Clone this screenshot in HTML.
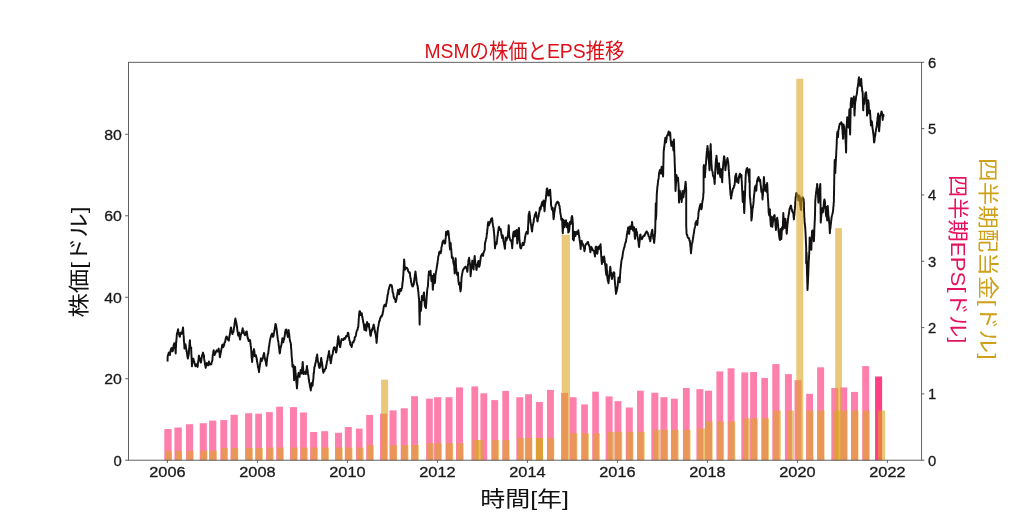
<!DOCTYPE html>
<html lang="ja"><head><meta charset="utf-8"><title>MSMの株価とEPS推移</title>
<style>html,body{margin:0;padding:0;background:#fff}body{width:1024px;height:517px;overflow:hidden;font-family:"Liberation Sans",sans-serif}svg{display:block;will-change:transform}text{font-family:"Liberation Sans",sans-serif;fill:#1a1a1a}</style></head><body>
<svg width="1024" height="517" viewBox="0 0 1024 517" role="img" aria-label="MSMの株価とEPS推移">
<rect width="1024" height="517" fill="#fff"/>
<polyline id="price" fill="none" stroke="#111" stroke-width="1.95" stroke-linejoin="round" points="167.5,361.5 167.6,360.1 167.6,358.6 167.6,358.6 167.7,356.3 167.7,356.1 168.0,355.5 168.3,354.3 168.6,353.0 168.8,353.1 169.1,352.4 169.4,352.3 169.6,354.0 169.9,355.1 170.1,353.2 170.2,352.3 170.4,352.0 170.6,351.9 170.7,350.2 171.1,348.7 171.5,348.2 171.8,348.1 172.1,349.4 172.4,351.2 172.7,351.3 172.9,350.4 173.1,348.9 173.2,349.1 173.4,347.0 173.6,345.1 173.9,345.9 174.1,343.7 174.3,343.2 174.5,343.4 174.8,344.2 175.0,345.9 175.1,346.8 175.3,349.1 175.4,349.0 175.5,351.1 175.6,352.5 175.7,353.4 175.7,352.0 175.8,351.1 175.8,348.9 175.9,347.7 175.9,346.8 176.0,346.6 176.1,344.8 176.1,343.8 176.2,342.2 176.3,341.5 176.4,340.1 176.5,338.5 176.6,338.4 176.7,336.9 176.8,334.8 176.9,334.1 177.1,333.3 177.3,332.2 177.6,332.0 177.8,330.7 178.1,329.3 178.2,330.0 178.4,332.7 178.6,332.1 178.8,334.1 179.2,334.8 179.5,336.4 179.9,336.8 180.1,335.0 180.4,334.6 180.7,332.6 180.9,332.5 181.3,333.2 181.7,333.8 182.0,333.6 182.2,332.7 182.3,332.3 182.5,330.1 182.7,329.9 182.8,328.7 183.0,327.4 183.1,328.7 183.2,329.6 183.3,331.5 183.4,332.8 183.4,332.9 183.5,334.4 183.6,335.2 183.7,335.5 183.8,338.1 183.9,339.2 183.9,341.1 184.0,342.0 184.1,342.1 184.2,343.5 184.3,345.3 184.3,345.2 184.4,347.3 184.5,348.6 184.7,346.8 185.0,345.7 185.2,344.5 185.5,344.3 185.6,346.0 185.8,345.7 185.9,347.0 186.1,348.6 186.3,349.3 186.5,351.3 186.7,350.6 186.9,352.4 187.0,353.3 187.2,354.6 187.4,356.3 187.6,357.2 187.8,358.3 187.9,358.6 188.1,357.1 188.3,356.4 188.4,355.2 188.6,355.3 188.8,353.4 188.9,353.2 189.0,350.3 189.1,349.2 189.2,348.1 189.3,346.9 189.4,346.2 189.5,345.2 189.6,343.3 189.7,341.6 189.8,341.3 189.9,340.2 190.0,341.1 190.0,342.6 190.1,344.6 190.2,345.1 190.3,345.9 190.4,347.2 190.5,348.1 190.8,348.2 191.2,347.5 191.2,347.8 191.2,350.7 191.3,351.7 191.3,353.0 191.4,354.0 191.4,354.4 191.5,355.6 191.5,356.1 191.6,358.4 191.6,358.4 191.7,359.6 191.7,361.0 191.8,362.1 191.8,363.7 191.9,364.2 191.9,366.3 192.1,364.1 192.2,363.2 192.4,362.0 192.6,361.3 192.8,360.4 193.1,358.6 193.5,358.8 193.7,360.7 193.9,361.2 194.2,361.3 194.4,363.1 194.6,363.4 194.9,364.4 195.2,365.2 195.4,366.3 195.8,364.8 196.2,365.6 196.5,364.2 196.9,366.1 197.2,365.9 197.6,366.9 197.8,365.7 197.9,363.6 198.0,362.5 198.2,361.8 198.3,361.0 198.5,359.4 198.6,359.5 198.7,357.0 198.9,355.7 199.0,355.6 199.2,357.5 199.4,357.6 199.6,357.8 199.8,359.6 200.0,360.4 200.2,360.2 200.5,361.9 200.8,362.6 201.0,362.6 201.2,361.4 201.3,360.1 201.5,358.2 201.7,357.8 201.9,356.4 202.2,355.0 202.5,355.2 202.7,353.7 203.0,352.6 203.3,354.2 203.5,354.2 203.8,355.6 204.0,356.1 204.1,358.4 204.3,359.8 204.4,360.6 204.6,361.0 204.8,362.8 204.9,364.0 205.1,365.0 205.3,365.0 205.5,366.8 205.7,367.9 205.9,366.7 206.1,365.0 206.3,364.1 206.5,363.6 206.7,363.1 207.1,363.3 207.4,365.0 207.8,365.3 208.1,365.3 208.3,363.3 208.6,363.4 208.9,361.5 209.1,363.3 209.4,364.1 209.7,363.6 209.9,364.7 210.4,364.0 210.9,363.8 211.3,364.2 211.6,362.6 211.8,361.7 212.1,361.6 212.3,360.4 212.4,360.1 212.5,358.8 212.6,356.8 212.7,356.0 212.8,354.5 213.1,354.1 213.3,351.5 213.5,351.6 213.7,350.2 213.9,352.1 214.1,352.8 214.2,353.7 214.4,354.0 214.6,355.1 214.9,353.5 215.3,353.9 215.6,352.4 216.0,351.3 216.4,351.6 216.7,350.2 217.1,351.6 217.4,350.7 217.8,351.3 218.1,350.2 218.4,350.5 218.7,348.6 218.9,350.3 219.1,350.4 219.3,352.4 219.5,352.8 219.6,354.1 219.8,356.9 219.9,357.2 220.1,356.6 220.3,354.1 220.5,354.3 220.7,352.4 220.9,352.3 221.2,350.6 221.4,349.1 221.7,347.8 221.9,347.1 222.1,345.2 222.3,344.9 222.7,344.6 223.0,347.3 223.4,347.0 223.6,346.4 223.9,345.2 224.2,345.1 224.4,343.2 224.7,342.2 225.0,342.1 225.3,341.1 225.5,339.5 225.8,338.1 226.1,337.5 226.3,336.8 226.6,336.5 226.9,336.7 227.1,338.2 227.4,338.2 227.7,339.5 228.0,339.7 228.4,339.4 228.8,340.6 228.9,340.3 229.1,338.1 229.3,337.3 229.4,336.4 229.6,335.2 229.8,334.9 230.0,332.8 230.2,332.8 230.3,330.8 230.5,329.7 230.7,328.6 230.9,327.4 231.1,327.6 231.3,329.6 231.5,330.2 231.8,332.0 232.0,331.6 232.3,334.0 232.5,334.1 232.8,332.6 233.0,332.4 233.3,332.2 233.6,330.9 233.7,329.9 233.9,328.4 234.0,327.7 234.2,326.7 234.4,326.1 234.5,323.6 234.7,323.4 234.8,322.3 235.0,320.4 235.2,319.3 235.4,318.5 235.6,320.1 235.8,320.5 236.1,321.6 236.3,322.9 236.5,323.4 236.6,325.3 236.8,325.4 236.9,326.8 237.1,327.7 237.2,328.8 237.3,329.8 237.5,331.4 237.7,332.1 237.9,333.4 238.0,334.5 238.2,335.7 238.5,335.6 238.7,334.0 239.0,332.5 239.1,334.5 239.3,335.8 239.5,335.5 239.7,337.3 239.9,339.2 240.0,339.5 240.2,339.1 240.5,336.6 240.7,335.5 240.9,335.1 241.1,334.1 241.5,332.7 242.0,333.0 242.1,331.3 242.3,329.7 242.5,329.8 242.7,328.2 242.9,329.7 243.1,330.9 243.4,330.3 243.6,332.0 243.9,333.2 244.2,333.9 244.5,333.6 244.9,335.2 245.2,335.1 245.6,334.4 245.9,332.5 246.4,331.4 246.8,331.4 247.0,333.5 247.1,333.4 247.2,334.6 247.4,336.8 247.6,336.8 247.8,338.6 248.1,338.2 248.4,339.9 248.6,341.1 249.1,340.8 249.6,340.0 250.0,340.0 250.2,340.5 250.3,341.9 250.4,343.9 250.6,343.6 250.7,345.8 250.8,346.7 251.0,347.0 251.1,349.1 251.2,350.0 251.3,351.8 251.4,352.7 251.4,352.9 251.5,356.0 251.6,356.8 251.7,358.3 251.8,357.7 251.9,359.2 252.0,359.9 252.1,362.0 252.2,361.5 252.3,359.3 252.4,357.8 252.6,357.3 252.7,357.2 252.8,355.8 252.9,354.0 253.1,352.5 253.3,351.3 253.6,352.0 253.8,350.3 254.0,349.1 254.1,350.7 254.3,350.6 254.4,351.7 254.6,354.2 254.7,354.8 254.8,356.1 255.2,354.9 255.6,356.3 255.9,355.1 256.1,356.3 256.3,357.7 256.5,357.2 256.7,359.8 256.9,359.1 257.0,361.8 257.2,362.0 257.4,363.0 257.6,363.9 257.8,365.4 257.9,367.2 258.1,366.9 258.3,368.5 258.5,368.7 258.7,370.4 258.9,370.8 259.0,372.2 259.2,370.3 259.3,369.2 259.5,367.8 259.6,367.0 259.8,366.0 259.9,365.3 260.1,363.7 260.3,363.5 260.4,361.3 260.6,360.6 260.8,358.8 261.0,358.3 261.3,358.9 261.6,359.1 261.8,361.0 262.1,359.6 262.4,358.3 262.6,359.0 262.9,357.8 263.1,356.9 263.3,355.2 263.6,354.8 263.8,354.8 264.0,352.9 264.2,353.3 264.4,356.0 264.6,356.4 264.7,357.8 265.0,358.8 265.3,360.6 265.5,360.7 265.8,362.0 266.0,363.3 266.2,364.9 266.4,365.8 266.5,365.7 266.6,363.2 266.7,363.0 266.8,361.6 267.0,360.3 267.1,358.7 267.2,357.8 267.5,356.4 267.7,354.7 268.0,353.7 268.3,353.4 268.4,351.3 268.5,351.5 268.7,349.3 268.8,347.9 269.0,346.5 269.1,346.9 269.2,345.8 269.4,343.8 269.6,343.1 269.8,341.2 270.0,340.1 270.2,339.6 270.4,338.2 270.7,337.5 271.0,335.8 271.2,335.5 271.6,334.7 271.9,333.7 272.2,333.5 272.4,335.3 272.7,336.2 272.9,336.2 273.1,336.9 273.4,335.4 273.6,336.0 273.8,333.7 274.0,332.8 274.2,332.2 274.4,330.1 274.6,329.9 274.7,329.1 274.9,328.1 275.1,326.5 275.2,326.1 275.4,324.0 275.6,324.0 275.8,324.5 276.0,325.1 276.1,326.7 276.3,326.9 276.5,328.8 276.7,329.0 276.8,330.8 277.0,331.9 277.2,333.8 277.3,334.9 277.5,336.0 277.6,337.6 277.8,338.5 277.9,339.7 278.1,341.2 278.3,341.2 278.4,342.2 278.6,343.7 278.7,345.8 278.8,345.1 279.0,347.4 279.1,348.3 279.2,348.1 279.4,350.9 279.5,352.1 279.6,352.6 279.8,353.4 279.9,352.8 280.1,351.8 280.3,349.2 280.4,348.9 280.6,347.7 280.8,346.8 281.0,346.5 281.2,345.5 281.5,344.6 281.7,343.0 281.8,342.0 282.0,341.4 282.2,339.8 282.4,338.2 282.6,339.7 282.8,339.7 283.1,340.3 283.3,342.3 283.5,340.6 283.7,340.1 283.9,338.6 284.2,339.2 284.4,337.6 284.5,336.7 284.7,335.8 284.9,334.8 285.0,333.9 285.2,332.5 285.3,331.5 285.7,329.8 286.1,330.8 286.4,329.4 286.6,331.0 286.8,331.6 287.0,332.7 287.2,334.0 287.4,333.9 287.6,336.3 287.8,336.9 287.9,335.3 288.1,333.7 288.2,333.0 288.4,332.9 288.6,330.6 288.7,330.1 288.8,331.8 289.0,333.5 289.1,333.7 289.3,334.6 289.4,336.0 289.5,337.6 289.7,339.0 289.8,339.6 290.0,340.9 290.2,342.1 290.4,342.0 290.7,343.2 290.9,345.0 291.0,345.7 291.1,348.0 291.2,348.3 291.3,350.0 291.4,350.1 291.4,351.4 291.5,353.1 291.6,355.1 291.7,356.4 291.8,357.2 291.9,358.8 292.0,359.1 292.1,360.8 292.2,361.9 292.3,363.1 292.3,363.5 292.4,366.3 292.5,366.7 292.8,365.6 293.1,366.8 293.4,365.3 293.5,367.4 293.6,366.6 293.6,368.7 293.7,370.6 293.7,372.1 293.8,372.1 293.8,372.9 293.9,373.9 293.9,376.6 294.0,376.2 294.0,378.1 294.1,378.3 294.1,380.2 294.2,379.1 294.3,378.7 294.4,375.8 294.4,376.0 294.5,374.1 294.6,373.7 294.6,372.1 294.7,369.8 294.8,370.0 294.9,367.9 294.9,366.7 295.1,366.9 295.2,368.0 295.3,370.2 295.4,371.3 295.5,372.2 295.7,373.1 295.8,374.7 295.9,376.2 296.0,377.0 296.1,379.3 296.2,378.8 296.3,381.6 296.4,383.0 296.5,382.7 296.7,385.6 296.8,386.4 296.9,388.0 297.0,388.4 297.1,386.7 297.1,385.7 297.2,384.6 297.3,384.7 297.4,382.6 297.5,381.0 297.6,379.9 297.6,378.9 297.8,377.4 298.0,375.9 298.1,375.0 298.3,375.5 298.4,373.4 298.6,372.8 298.8,374.7 299.1,374.3 299.3,375.3 299.6,376.9 299.7,375.7 299.9,373.9 300.1,373.2 300.3,373.3 300.4,372.0 300.6,370.1 300.9,371.6 301.2,372.0 301.4,373.5 301.7,373.5 301.8,373.2 301.9,371.3 302.0,370.5 302.1,367.9 302.2,368.2 302.3,366.5 302.4,365.9 302.5,364.6 302.6,362.7 302.7,361.9 302.8,362.2 302.9,365.3 302.9,364.8 303.0,366.8 303.1,367.7 303.2,368.8 303.3,371.0 303.4,372.7 303.5,372.4 303.6,374.1 304.0,373.8 304.3,372.4 304.7,372.1 305.1,372.9 305.4,373.2 305.8,374.1 306.0,372.3 306.1,371.1 306.3,370.0 306.5,370.4 306.7,368.3 306.8,366.6 307.0,366.0 307.1,368.0 307.3,369.3 307.4,369.2 307.5,369.7 307.7,370.9 307.8,371.8 307.9,373.4 308.1,374.8 308.3,375.0 308.5,376.4 308.6,377.6 308.8,379.3 309.0,380.2 309.2,382.2 309.4,383.0 309.6,383.4 309.8,384.6 309.9,385.9 310.1,387.0 310.3,387.9 310.6,388.9 310.8,390.4 310.9,388.4 311.1,387.8 311.2,388.2 311.3,385.4 311.5,385.1 311.6,384.3 311.7,382.9 312.0,384.6 312.3,384.2 312.6,385.7 312.7,384.0 312.8,382.8 312.9,381.9 313.0,380.8 313.1,380.7 313.3,379.3 313.4,378.1 313.5,376.2 313.6,374.1 313.7,373.0 313.9,373.3 314.0,372.6 314.1,370.6 314.2,369.8 314.3,367.4 314.4,367.4 314.7,366.2 314.9,366.4 315.1,365.2 315.3,364.3 315.5,362.6 315.8,362.5 316.1,359.8 316.3,359.2 316.5,357.2 316.8,356.2 317.0,355.7 317.2,354.5 317.3,356.0 317.4,357.7 317.6,358.4 317.7,359.3 317.8,360.7 318.0,361.3 318.2,362.2 318.4,363.4 318.6,363.4 318.8,365.9 319.0,365.8 319.2,367.4 319.6,368.0 319.9,367.2 320.3,366.7 320.4,365.2 320.5,363.7 320.6,362.9 320.7,362.6 320.9,361.6 321.0,359.3 321.1,358.1 321.2,357.9 321.4,359.0 321.5,360.2 321.7,360.8 321.8,361.6 322.0,363.4 322.1,363.2 322.3,365.3 322.5,366.0 322.6,367.4 322.8,369.5 322.9,369.9 323.1,371.5 323.2,371.7 323.4,372.8 323.7,371.4 324.1,370.6 324.4,371.2 324.7,369.4 325.1,369.4 325.6,368.1 326.0,368.1 326.1,365.9 326.3,365.8 326.5,365.0 326.7,363.4 326.9,361.9 327.0,361.3 327.3,360.7 327.5,360.3 327.7,357.9 327.9,356.5 328.1,356.5 328.3,355.1 328.5,354.2 328.7,353.7 328.9,351.6 329.1,351.1 329.2,352.9 329.4,353.9 329.5,354.5 329.7,355.0 329.9,357.7 330.0,357.9 330.2,358.6 330.3,360.7 330.4,360.6 330.6,361.6 330.7,363.3 330.9,362.8 331.1,360.8 331.2,361.2 331.4,359.2 331.6,357.6 331.8,357.2 332.0,355.7 332.2,355.1 332.4,354.7 332.7,354.4 332.9,352.5 333.1,350.8 333.3,350.4 333.5,349.0 333.7,349.7 333.9,347.7 334.4,347.2 334.8,347.2 335.2,348.4 335.4,348.5 335.6,350.2 335.9,352.3 336.1,352.5 336.3,352.1 336.5,350.7 336.7,350.1 336.8,348.9 337.0,346.5 337.2,345.7 337.3,343.9 337.5,344.2 337.6,342.7 337.7,340.0 337.9,340.1 338.0,338.3 338.1,337.1 338.3,336.2 338.4,337.0 338.6,337.8 338.8,338.6 338.9,340.3 339.1,341.5 339.2,343.0 339.5,345.0 339.7,344.2 339.9,347.0 340.2,347.1 340.4,345.3 340.5,344.5 340.7,344.3 340.9,343.2 341.1,341.3 341.3,340.3 341.7,339.1 342.2,339.8 342.6,339.6 343.1,339.1 343.5,340.0 344.0,338.9 344.4,337.9 344.8,338.0 345.2,338.8 345.6,337.6 346.1,336.1 346.5,336.5 346.9,336.2 347.2,336.0 347.5,335.1 347.8,332.7 348.0,332.8 348.3,332.9 348.5,334.1 348.7,337.0 348.9,336.7 349.1,338.2 349.3,339.8 349.6,341.1 349.8,341.0 350.0,341.8 350.2,344.3 350.5,344.4 350.8,345.5 351.2,345.7 351.6,347.1 351.8,346.6 352.0,344.8 352.3,343.7 352.5,342.2 352.8,342.3 353.1,342.3 353.5,342.2 353.8,341.1 354.1,340.3 354.4,340.4 354.7,337.7 354.9,337.3 355.2,337.0 355.5,336.2 355.7,336.3 355.9,335.4 356.2,333.3 356.4,332.1 356.6,331.6 356.8,330.8 357.2,329.9 357.5,330.0 357.9,327.6 358.2,327.4 358.3,326.9 358.3,325.7 358.4,324.7 358.5,323.5 358.6,322.0 358.7,320.3 358.7,319.2 358.8,318.1 358.9,317.9 359.0,315.3 359.1,315.1 359.2,313.4 359.3,313.6 359.4,311.5 359.6,311.1 359.9,311.1 360.2,312.1 360.5,314.2 360.8,315.1 361.1,314.1 361.5,314.9 361.8,313.3 362.0,315.3 362.2,316.8 362.4,316.5 362.5,317.3 362.7,319.4 362.9,319.6 363.1,321.6 363.4,323.1 363.6,323.8 363.8,324.9 363.9,325.6 364.1,327.2 364.3,328.9 364.4,329.9 364.6,329.2 364.8,328.3 365.0,327.4 365.1,326.0 365.3,324.6 365.5,325.1 365.7,327.8 365.8,327.9 366.0,329.7 366.2,330.7 366.3,329.4 366.4,329.1 366.5,326.8 366.6,325.8 366.7,324.8 366.8,323.5 367.0,323.9 367.1,322.0 367.3,323.3 367.5,323.8 367.7,325.1 367.9,326.4 368.2,326.5 368.5,324.6 368.8,323.8 369.0,324.4 369.1,326.8 369.3,327.7 369.5,329.7 369.7,329.9 369.8,330.2 370.0,332.2 370.2,334.2 370.4,335.4 370.5,335.9 370.8,335.7 371.1,332.8 371.3,332.3 371.6,331.6 371.8,329.9 372.1,329.2 372.4,330.0 372.6,328.1 372.9,327.4 373.2,327.3 373.4,325.2 373.7,324.6 373.9,326.4 374.1,326.6 374.3,327.3 374.5,329.4 374.7,329.9 374.9,331.8 375.1,331.1 375.3,333.2 375.6,334.3 375.8,335.1 375.9,335.6 376.0,337.0 376.1,337.7 376.3,338.9 376.4,340.2 376.5,342.0 376.6,342.9 376.7,342.1 376.8,340.0 376.9,338.5 377.0,338.0 377.1,337.6 377.2,335.5 377.2,334.6 377.3,333.2 377.4,333.4 377.5,331.6 377.7,330.5 377.9,328.4 378.0,327.3 378.2,326.7 378.4,325.9 378.6,324.6 378.8,323.9 379.1,321.7 379.4,320.8 379.7,320.9 379.9,319.4 380.3,318.4 380.6,317.2 381.0,316.4 381.3,315.9 381.7,316.6 382.0,315.0 382.4,315.1 382.6,314.2 382.7,312.7 382.9,311.8 383.1,311.8 383.2,311.0 383.4,309.0 383.7,307.6 383.9,306.2 384.2,306.2 384.5,304.6 384.9,304.6 385.3,304.7 385.7,306.4 385.9,306.1 386.1,304.0 386.3,303.8 386.6,302.0 386.7,300.8 386.9,300.7 387.1,298.8 387.3,297.1 387.4,296.8 387.6,294.7 387.8,294.8 388.0,293.9 388.1,293.5 388.3,291.6 388.6,289.6 388.8,289.6 389.1,288.0 389.3,287.2 389.7,286.5 390.0,285.0 390.4,284.9 390.9,284.7 391.3,285.3 391.8,285.5 392.0,287.5 392.1,287.0 392.3,288.9 392.5,290.7 392.6,292.2 392.8,292.4 393.1,292.9 393.3,293.8 393.6,296.6 393.9,296.8 394.2,298.6 394.6,298.5 394.9,299.4 395.2,299.3 395.5,302.0 395.8,302.0 396.0,300.7 396.2,300.8 396.4,299.2 396.6,298.6 396.8,296.2 397.0,295.9 397.2,295.5 397.4,293.3 397.5,292.7 397.7,292.6 397.9,291.5 398.1,289.8 398.3,290.2 398.6,291.4 398.8,292.9 399.1,294.2 399.3,293.2 399.5,291.8 399.7,290.2 399.9,289.5 400.1,288.9 400.5,290.0 400.8,290.9 401.2,290.7 401.4,288.6 401.7,288.6 402.0,288.0 402.2,286.3 402.3,284.3 402.4,284.9 402.5,282.3 402.7,282.2 402.8,281.0 402.9,280.1 403.0,278.3 403.1,277.6 403.2,276.3 403.3,275.5 403.4,274.0 403.4,273.3 403.5,271.7 403.6,270.7 403.7,269.4 403.7,267.4 403.8,267.5 403.8,266.1 403.9,264.5 403.9,264.4 404.0,263.3 404.0,261.5 404.1,259.8 404.1,259.4 404.2,260.5 404.3,260.8 404.4,262.1 404.5,263.8 404.5,264.3 404.6,266.2 404.7,267.5 404.8,267.7 404.8,269.8 405.1,269.2 405.4,267.2 405.7,267.2 406.2,268.0 406.6,268.4 407.1,268.1 407.4,269.0 407.7,268.9 408.0,270.7 408.3,271.5 408.8,271.6 409.2,273.1 409.7,272.4 409.9,272.8 410.1,275.4 410.2,276.8 410.4,277.4 410.6,278.7 410.8,278.5 410.9,280.2 411.2,282.3 411.4,282.3 411.6,284.2 411.9,285.2 412.1,284.6 412.3,286.3 412.7,286.5 413.0,286.4 413.4,284.1 413.7,284.6 413.9,283.1 414.0,282.8 414.1,280.4 414.3,280.8 414.4,278.3 414.6,277.6 414.8,277.1 414.9,274.4 415.1,274.0 415.3,273.6 415.4,271.5 415.6,272.1 415.7,273.4 415.8,275.1 416.0,275.9 416.1,276.5 416.2,278.0 416.4,279.2 416.5,281.1 416.8,283.1 417.0,283.7 417.3,285.2 417.5,285.5 417.7,285.9 417.8,288.4 418.0,288.1 418.1,290.2 418.3,291.6 418.4,292.4 418.5,293.3 418.6,295.5 418.7,295.9 418.8,297.1 418.9,298.8 419.0,298.3 419.1,300.3 419.1,302.5 419.2,303.0 419.2,303.7 419.2,305.8 419.2,305.9 419.3,308.6 419.3,309.0 419.3,309.7 419.3,311.8 419.4,312.3 419.4,313.0 419.4,315.4 419.4,315.2 419.5,318.0 419.5,318.0 419.5,320.0 419.6,322.0 419.6,322.4 419.6,323.8 419.6,324.6 419.7,323.0 419.7,321.2 419.7,320.1 419.7,319.1 419.8,318.9 419.8,317.3 419.8,316.3 419.8,315.9 419.9,313.1 419.9,312.1 419.9,311.8 420.0,309.3 420.0,308.1 420.0,307.7 420.0,305.9 420.1,305.3 420.1,303.8 420.1,303.4 420.1,302.0 420.3,303.3 420.4,303.6 420.5,305.5 420.6,306.3 420.7,306.7 420.8,309.4 420.9,309.1 421.0,310.7 421.1,308.8 421.2,307.6 421.2,307.6 421.3,306.9 421.4,305.6 421.4,303.7 421.5,302.2 421.6,300.6 421.6,300.8 421.7,299.5 421.8,297.9 421.8,297.4 421.9,295.9 422.1,296.9 422.3,299.0 422.6,299.7 422.8,300.3 422.9,298.6 423.1,298.9 423.3,295.9 423.5,295.9 423.6,294.5 423.8,293.0 424.0,292.4 424.1,292.7 424.1,295.4 424.2,295.0 424.3,297.3 424.4,299.3 424.5,298.8 424.5,300.1 424.6,302.1 424.7,303.1 424.8,304.6 424.9,305.5 425.2,307.0 425.6,306.5 425.9,308.1 426.0,306.6 426.1,305.4 426.1,303.7 426.2,304.4 426.3,303.0 426.4,301.7 426.5,299.1 426.5,299.7 426.6,298.4 426.7,296.6 426.8,296.1 426.9,294.3 426.9,293.3 427.1,291.6 427.2,290.3 427.3,289.5 427.5,288.0 427.6,287.5 427.7,287.3 427.9,286.1 428.0,284.6 428.1,284.1 428.1,282.7 428.2,280.5 428.3,280.0 428.4,278.5 428.5,278.1 428.5,276.3 428.6,274.6 428.7,274.2 428.8,273.7 428.9,271.5 429.1,271.8 429.3,274.1 429.5,273.1 429.7,275.0 429.9,273.4 430.2,272.3 430.4,272.3 430.6,270.7 430.7,272.8 430.8,273.5 430.9,273.8 431.0,276.1 431.1,276.1 431.2,277.1 431.3,279.6 431.4,280.2 431.5,281.1 431.6,280.5 431.8,279.4 431.9,279.0 432.0,276.9 432.2,275.9 432.2,277.8 432.3,278.6 432.3,280.1 432.4,280.4 432.5,282.2 432.5,283.0 432.6,283.6 432.6,284.6 432.7,286.6 432.7,286.6 432.8,289.5 432.9,289.8 432.9,287.9 433.0,286.4 433.1,285.4 433.2,285.9 433.3,283.5 433.3,281.8 433.4,280.4 433.5,279.2 433.6,279.4 433.7,278.0 433.7,277.0 433.8,275.9 433.9,274.1 434.0,274.3 434.2,276.5 434.3,277.1 434.4,279.2 434.6,280.3 434.7,281.5 434.8,280.9 434.9,282.9 435.0,282.5 435.1,281.4 435.2,280.3 435.3,277.4 435.4,276.4 435.5,275.1 435.6,273.8 435.7,274.3 435.8,272.4 436.0,272.1 436.2,270.7 436.4,270.0 436.6,268.6 436.8,266.9 437.0,266.3 437.2,264.4 437.3,263.4 437.5,263.7 437.6,261.5 437.8,260.7 437.9,259.9 438.1,259.0 438.2,257.0 438.4,256.4 438.6,255.4 438.8,255.2 439.0,253.4 439.1,252.6 439.5,251.7 439.9,251.5 440.3,253.3 440.7,253.1 440.9,252.0 441.1,251.5 441.3,249.8 441.4,247.4 441.6,247.2 441.8,246.1 442.0,245.1 442.1,244.8 442.3,243.0 442.5,242.7 442.7,241.3 443.0,241.2 443.4,240.4 443.8,240.8 444.0,242.4 444.2,241.7 444.5,243.5 444.9,243.6 445.4,242.4 445.4,240.5 445.5,239.0 445.6,238.2 445.7,238.2 445.8,237.4 445.9,234.2 445.9,234.0 446.0,232.8 446.1,231.7 446.4,233.3 446.7,233.1 447.0,234.9 447.2,233.9 447.3,232.7 447.5,232.7 447.7,231.1 448.1,230.9 448.5,231.7 448.6,233.7 448.7,233.3 448.8,234.3 448.9,236.4 449.0,237.0 449.1,238.1 449.2,238.4 449.3,240.6 449.4,240.6 449.5,243.2 449.6,244.2 449.6,245.5 449.7,246.3 449.8,246.8 449.9,248.0 450.0,249.4 450.1,248.1 450.2,248.0 450.3,245.3 450.4,245.9 450.5,243.0 450.6,242.9 450.7,243.6 450.8,244.9 450.9,247.5 451.1,247.9 451.2,248.9 451.3,250.4 451.4,252.3 451.5,252.0 451.6,253.6 451.7,254.8 451.8,256.4 451.9,257.4 452.0,258.0 452.4,258.0 452.8,257.4 452.9,258.1 453.0,259.1 453.2,259.7 453.3,262.2 453.4,262.5 453.7,263.9 454.0,265.1 454.2,265.6 454.3,266.0 454.3,267.7 454.4,269.5 454.4,270.3 454.5,270.4 454.6,272.2 454.6,273.4 454.7,273.1 454.7,270.5 454.8,269.3 454.9,268.3 455.0,268.0 455.0,267.1 455.1,264.5 455.2,264.1 455.3,262.2 455.3,261.2 455.4,260.2 455.5,259.4 455.6,258.2 455.7,258.7 455.8,260.3 455.8,261.2 455.9,264.1 456.0,264.8 456.0,264.7 456.1,267.7 456.2,268.0 456.3,268.3 456.4,270.1 456.6,272.5 456.7,272.7 457.0,274.4 457.3,275.0 457.7,274.3 458.0,272.7 458.0,273.8 458.1,274.5 458.1,276.6 458.2,276.7 458.2,278.2 458.3,279.8 458.4,281.2 458.5,281.3 458.7,283.1 458.9,284.4 459.2,284.2 459.5,282.8 459.6,284.5 459.8,285.3 459.9,286.8 460.0,287.7 460.1,289.1 460.3,289.5 460.5,291.4 460.7,290.5 460.9,289.1 461.0,287.8 461.1,287.4 461.1,286.6 461.2,284.5 461.2,283.6 461.3,282.6 461.4,281.8 461.4,279.9 461.5,278.3 461.6,278.2 461.6,276.6 461.8,276.3 462.0,275.1 462.2,273.4 462.4,272.8 462.6,272.1 462.8,270.3 463.2,269.9 463.6,268.8 464.0,268.7 464.4,268.0 464.8,267.3 465.2,266.8 465.6,266.6 465.9,267.2 466.3,268.2 466.7,268.8 466.9,268.9 467.1,270.7 467.3,271.9 467.4,271.2 467.6,269.8 467.7,268.4 467.8,266.3 467.9,265.6 468.0,264.3 468.2,263.2 468.3,262.4 468.4,260.9 468.6,259.7 468.9,259.2 469.1,257.8 469.2,259.9 469.4,259.5 469.5,261.7 469.7,262.5 469.9,264.1 470.1,264.3 470.2,265.6 470.3,266.8 470.3,269.0 470.4,268.2 470.4,270.4 470.4,270.8 470.5,273.2 470.5,274.8 470.6,275.0 470.6,276.2 470.7,274.2 470.8,274.1 470.9,272.9 471.0,272.2 471.1,270.7 471.2,269.5 471.3,268.6 471.5,267.9 471.6,266.1 471.8,264.8 471.9,263.6 472.1,263.6 472.2,261.0 472.3,260.6 472.6,262.1 472.8,262.7 473.0,264.1 473.1,265.7 473.2,265.5 473.3,268.4 473.5,268.1 473.6,269.5 473.7,267.4 473.7,266.6 473.8,265.6 473.9,263.6 474.0,263.2 474.1,262.0 474.1,260.9 474.3,260.1 474.4,258.1 474.6,256.6 474.7,255.9 474.8,256.4 474.9,258.6 475.0,260.1 475.1,260.3 475.2,260.8 475.3,262.5 475.5,264.2 475.7,264.4 475.9,265.6 476.1,266.1 476.2,267.0 476.3,269.4 476.5,269.9 476.6,269.5 476.8,268.1 477.0,266.6 477.1,265.6 477.4,265.0 477.7,264.1 477.9,262.4 478.2,263.0 478.4,260.9 478.6,261.8 478.7,263.6 478.8,265.1 478.9,266.3 479.1,266.8 479.4,266.1 479.7,265.6 479.8,264.1 480.0,263.5 480.1,261.6 480.2,262.0 480.4,260.2 480.5,258.9 480.7,258.9 480.8,256.7 480.9,256.2 481.3,255.4 481.7,255.1 482.1,254.0 482.5,253.9 482.8,254.7 483.1,255.9 483.3,254.0 483.5,252.5 483.8,252.3 484.0,252.0 484.3,250.8 484.7,250.0 484.8,248.2 484.8,246.9 484.9,245.7 484.9,244.7 485.0,243.5 485.2,242.4 485.4,241.9 485.6,241.0 485.9,239.7 486.1,238.3 486.3,238.5 486.5,237.2 486.7,235.4 486.8,233.4 487.0,233.9 487.1,233.0 487.2,231.7 487.3,229.3 487.5,229.0 487.6,228.5 487.7,226.9 487.8,224.5 488.0,223.3 488.1,224.1 488.2,222.0 488.5,223.4 488.8,223.6 489.1,225.2 489.4,223.7 489.7,223.0 489.9,223.1 490.2,221.6 490.4,221.8 490.7,220.4 491.0,219.5 491.4,218.6 491.7,219.6 492.1,218.2 492.2,220.0 492.4,219.9 492.5,222.6 492.7,223.2 492.8,224.1 493.0,225.7 493.2,226.4 493.4,227.8 493.6,227.9 493.7,229.6 493.8,230.8 493.9,230.5 494.0,232.6 494.1,233.3 494.2,234.3 494.3,236.0 494.4,236.5 494.4,238.6 494.5,239.1 494.6,239.7 494.6,240.8 494.7,241.7 494.7,243.6 494.8,243.9 494.9,245.9 494.9,246.4 495.0,248.3 495.1,247.2 495.3,246.1 495.4,245.2 495.6,244.8 495.7,242.9 496.2,242.4 496.6,244.0 496.7,243.6 496.8,241.8 497.0,240.9 497.1,240.0 497.2,239.3 497.3,237.3 497.5,236.5 497.6,235.2 497.8,235.3 497.9,232.4 498.1,232.5 498.2,231.1 498.4,230.3 498.6,228.0 498.9,228.1 499.1,226.8 499.3,228.3 499.6,229.9 499.8,230.0 500.2,229.1 500.7,229.0 500.9,231.2 501.1,231.4 501.2,232.6 501.4,233.8 501.6,235.7 501.8,235.0 502.0,237.5 502.2,238.1 502.4,237.5 502.6,236.0 502.8,235.4 503.0,237.2 503.1,237.3 503.2,238.6 503.3,239.8 503.5,241.4 503.6,241.9 503.9,242.3 504.1,244.0 504.3,245.1 504.5,246.3 504.7,247.7 504.9,248.8 505.0,248.4 505.0,246.1 505.1,246.1 505.2,244.1 505.3,243.2 505.4,241.6 505.5,241.0 505.6,240.8 505.6,239.0 505.7,237.6 506.0,239.1 506.2,239.0 506.5,240.2 506.8,239.1 507.1,238.4 507.3,238.1 507.5,237.1 507.7,236.0 507.9,235.1 508.1,233.3 508.2,231.1 508.3,231.4 508.4,230.6 508.5,228.8 508.6,226.6 508.6,225.9 508.7,225.2 508.8,225.4 508.9,227.1 508.9,229.9 509.0,230.4 509.0,231.8 509.1,233.3 509.2,234.8 509.2,235.5 509.3,236.5 509.5,237.6 509.8,238.5 510.0,239.2 510.4,240.4 510.8,240.8 511.1,240.7 511.4,240.2 511.5,241.8 511.6,241.9 511.8,244.0 511.9,244.8 512.0,246.5 512.1,246.3 512.2,248.3 512.3,246.4 512.3,245.0 512.4,245.3 512.5,244.4 512.6,242.7 512.6,240.9 512.7,240.7 512.8,239.4 512.9,237.8 512.9,236.5 513.1,234.8 513.2,233.6 513.4,232.7 513.6,231.7 513.8,232.5 514.0,233.9 514.1,235.6 514.3,236.5 514.5,236.3 514.6,233.4 514.8,233.4 514.9,231.2 515.1,231.1 515.3,231.3 515.4,233.7 515.6,234.2 515.8,235.9 515.9,235.9 516.1,234.7 516.2,232.6 516.3,232.2 516.5,231.4 516.6,230.0 516.6,232.2 516.7,233.5 516.8,233.7 516.8,234.7 516.9,235.3 516.9,237.7 517.0,238.0 517.1,239.1 517.1,240.0 517.2,241.2 517.2,243.5 517.3,242.7 517.4,240.4 517.5,241.0 517.6,238.1 517.7,238.6 517.8,235.9 517.9,234.5 518.0,234.9 518.1,233.3 518.3,231.6 518.4,231.6 518.6,229.4 518.8,228.0 519.0,227.9 519.0,229.6 519.1,230.7 519.1,232.2 519.2,233.1 519.2,232.9 519.3,235.3 519.3,236.6 519.4,237.3 519.4,239.4 519.5,239.7 519.6,240.3 519.7,242.8 519.8,243.4 519.9,243.0 520.0,244.1 520.1,246.5 520.2,247.2 520.7,248.4 521.1,248.3 521.4,246.5 521.7,246.1 522.0,245.6 522.2,245.2 522.5,243.1 522.8,242.9 523.1,244.4 523.4,244.3 523.7,245.1 524.0,243.3 524.2,243.0 524.5,242.4 524.6,241.5 524.7,240.1 524.9,239.5 525.0,237.3 525.1,237.0 525.3,236.7 525.5,234.9 525.7,234.5 525.9,233.3 526.3,232.7 526.7,231.7 527.0,232.2 527.4,232.8 527.8,233.8 527.8,233.2 527.9,232.3 527.9,230.7 528.0,229.0 528.0,227.2 528.1,225.5 528.1,226.2 528.2,224.4 528.3,223.5 528.3,221.2 528.4,220.6 528.4,220.1 528.5,218.6 528.5,216.9 528.6,215.4 528.8,214.1 529.0,213.4 529.2,213.4 529.4,211.7 529.5,212.6 529.7,214.5 529.8,215.5 530.0,216.5 530.1,218.5 530.2,219.5 530.3,219.6 530.4,220.2 530.5,222.4 530.7,222.9 530.9,224.1 531.1,225.4 531.3,226.2 531.4,227.9 531.6,229.2 531.7,228.5 531.9,231.2 532.0,231.6 532.1,231.1 532.2,230.2 532.4,228.5 532.5,226.8 532.6,226.9 532.7,225.1 532.9,224.9 533.2,223.7 533.4,222.4 533.6,222.3 533.8,220.2 533.9,218.7 534.1,218.7 534.3,217.6 534.5,217.2 534.8,214.8 535.0,214.4 535.3,214.2 535.6,213.9 535.9,212.2 536.1,212.7 536.3,214.6 536.5,215.8 536.6,216.5 536.8,217.4 537.0,217.8 537.2,218.9 537.3,220.9 537.5,221.4 537.7,220.9 537.9,219.1 538.1,217.3 538.3,217.1 538.5,216.8 538.7,215.8 538.9,213.7 539.1,213.3 539.3,212.3 539.4,211.8 539.6,210.6 539.7,208.6 539.9,207.4 540.1,208.1 540.4,209.0 540.6,209.5 540.8,207.9 541.0,207.0 541.1,206.0 541.3,206.1 541.5,204.7 541.7,203.5 542.0,203.1 542.2,202.0 542.5,203.1 542.7,204.6 542.9,205.8 543.0,204.0 543.2,202.7 543.3,203.6 543.5,201.2 543.6,200.4 543.7,200.8 543.8,203.1 543.9,204.6 544.0,204.5 544.1,206.6 544.2,207.2 544.3,208.8 544.4,208.9 544.5,211.2 544.6,208.9 544.7,209.7 544.8,208.2 544.9,206.2 545.0,205.2 545.1,203.3 545.2,202.6 545.4,202.1 545.5,200.3 545.7,200.3 545.8,198.8 546.0,197.2 546.1,196.6 546.2,195.7 546.4,193.0 546.5,191.3 546.6,190.4 546.7,189.1 546.9,188.6 547.1,188.4 547.4,189.1 547.6,190.7 547.8,191.8 548.0,193.5 548.1,193.6 548.3,195.6 548.5,195.6 548.7,195.2 548.8,192.2 549.0,192.2 549.2,190.7 549.7,190.0 550.1,189.7 550.2,189.9 550.3,192.8 550.4,192.4 550.4,194.1 550.5,195.3 550.6,196.1 550.7,198.3 550.8,198.9 550.8,199.5 550.9,200.8 551.0,201.4 551.0,204.3 551.1,205.6 551.1,205.8 551.3,206.1 551.5,206.7 551.7,208.1 551.9,209.5 552.3,208.4 552.8,207.9 552.8,209.9 552.9,211.0 553.0,212.0 553.1,211.5 553.2,214.2 553.3,215.1 553.4,216.1 553.4,218.0 553.5,217.1 553.6,219.2 553.7,217.3 553.9,217.4 554.0,216.6 554.1,214.9 554.3,213.0 554.4,212.2 554.6,211.3 554.8,210.6 555.0,208.2 555.2,207.9 555.4,206.6 555.6,205.5 555.8,204.3 556.0,204.2 556.3,203.6 556.7,202.4 557.1,202.6 557.4,201.9 557.8,201.7 558.1,202.3 558.4,203.4 558.7,202.8 558.9,205.0 559.2,205.2 559.4,205.5 559.6,206.1 559.8,209.0 560.0,209.0 560.1,209.5 560.2,212.1 560.4,213.0 560.5,214.1 560.6,214.4 560.8,214.7 560.9,216.4 561.1,216.8 561.2,219.6 561.4,219.8 561.7,219.9 562.1,218.7 562.2,220.1 562.2,221.0 562.3,222.0 562.3,224.2 562.4,224.7 562.4,226.2 562.5,226.4 562.5,227.8 562.6,228.6 562.6,231.2 562.7,232.1 562.8,233.2 562.8,231.2 562.9,231.5 563.0,229.0 563.0,228.1 563.1,226.3 563.2,225.4 563.2,225.3 563.3,223.1 563.4,221.5 563.4,221.0 563.5,219.8 563.6,220.4 563.7,222.7 563.8,222.2 563.9,225.1 564.0,224.2 564.2,227.0 564.3,227.3 564.4,226.7 564.6,224.7 564.8,224.3 564.9,222.9 565.1,222.4 565.4,221.2 565.7,220.4 566.0,220.3 566.1,221.2 566.2,223.6 566.4,224.8 566.5,225.8 566.6,225.3 566.7,227.3 566.9,225.8 567.2,226.0 567.4,223.1 567.6,223.0 567.7,224.7 567.8,225.0 567.9,227.6 568.0,226.8 568.1,229.7 568.2,229.9 568.2,230.7 568.3,232.6 568.6,230.9 568.9,231.9 569.2,230.5 569.3,229.3 569.4,227.4 569.5,226.7 569.6,226.4 569.7,223.8 569.8,223.3 570.0,221.9 570.2,221.8 570.5,222.7 570.8,224.0 570.9,223.5 571.1,222.3 571.2,220.2 571.4,219.8 571.5,217.9 571.7,217.0 571.9,217.2 572.1,216.0 572.2,217.1 572.4,217.8 572.5,218.9 572.6,220.9 572.7,222.2 572.9,223.0 572.9,224.8 572.9,225.5 572.9,225.9 572.9,226.7 572.9,229.3 572.9,229.8 572.9,231.6 572.9,231.4 572.9,234.1 572.9,234.3 572.9,236.6 572.9,237.8 572.9,238.2 572.9,239.3 573.3,238.9 573.7,240.4 573.8,240.0 574.0,237.9 574.1,237.5 574.2,235.0 574.3,233.6 574.4,233.7 574.6,231.8 574.8,232.6 574.9,233.3 575.1,234.8 575.3,236.1 575.6,235.2 575.9,232.9 576.1,232.9 576.4,231.8 576.8,232.4 577.1,233.3 577.5,234.0 577.7,232.2 577.9,232.5 578.1,231.8 578.3,230.2 578.5,232.2 578.6,232.2 578.8,234.2 578.9,234.7 579.1,236.1 579.3,237.7 579.4,237.3 579.6,240.1 579.8,241.4 579.9,241.5 580.0,242.5 580.2,243.7 580.3,244.8 580.4,245.9 580.5,245.8 580.6,248.9 580.7,249.0 580.8,247.3 580.9,246.0 581.0,244.7 581.1,243.9 581.2,243.9 581.3,241.1 581.5,240.9 581.7,240.8 582.0,242.8 582.3,243.1 582.6,243.4 582.9,243.9 583.2,245.8 583.5,246.5 583.9,246.9 584.1,248.1 584.2,249.1 584.3,250.5 584.5,251.2 584.6,249.2 584.8,249.8 585.0,248.4 585.1,245.9 585.3,245.8 585.7,244.2 586.1,244.2 586.4,243.9 586.8,243.6 587.2,243.1 587.5,242.1 587.9,242.0 588.2,242.3 588.5,244.0 588.8,245.2 589.2,245.3 589.6,246.9 589.8,248.1 589.9,249.8 590.1,249.3 590.2,251.3 590.4,252.2 590.5,251.7 590.7,249.4 590.9,249.7 591.0,248.9 591.2,246.9 591.6,247.4 592.0,248.5 592.3,248.8 592.7,250.3 593.0,250.1 593.4,250.5 593.8,250.6 594.1,251.2 594.3,253.2 594.5,253.9 594.6,254.0 594.8,254.9 595.0,256.5 595.1,255.0 595.2,254.0 595.3,253.9 595.4,252.3 595.4,251.3 595.5,249.9 595.6,248.8 595.7,246.9 596.2,246.5 596.6,247.9 596.7,249.1 596.9,251.3 597.0,252.4 597.2,252.1 597.3,253.8 597.5,252.5 597.6,251.8 597.8,250.1 597.9,249.3 598.1,247.1 598.2,246.9 598.5,247.4 598.7,248.3 599.0,249.0 599.2,246.9 599.5,246.1 599.7,245.8 600.1,246.0 600.6,244.2 600.6,245.9 600.7,247.3 600.8,247.8 600.8,249.3 600.9,250.6 601.0,251.7 601.0,251.1 601.1,253.5 601.1,253.8 601.2,255.4 601.3,257.1 601.4,257.4 601.5,259.2 601.6,261.2 601.7,261.8 601.8,262.3 601.9,264.0 602.0,262.9 602.1,261.6 602.2,261.5 602.3,258.9 602.4,257.8 602.5,257.1 602.7,258.6 602.9,258.7 603.1,260.9 603.2,261.9 603.4,261.8 603.6,259.8 603.8,258.2 603.9,257.5 604.1,256.5 604.2,257.7 604.4,257.9 604.5,259.0 604.6,260.0 604.7,261.5 604.9,263.0 605.0,263.8 605.2,264.7 605.3,265.7 605.5,266.4 605.6,268.3 605.7,269.5 605.8,271.3 605.9,271.9 606.0,272.9 606.2,274.2 606.3,275.0 606.3,273.2 606.3,273.1 606.3,271.4 606.4,270.4 606.4,269.3 606.4,267.8 606.5,266.3 606.5,265.0 606.5,264.3 606.6,264.9 606.7,266.7 606.7,267.7 606.8,269.3 606.9,269.3 607.0,271.2 607.0,273.5 607.1,273.3 607.2,275.2 607.3,276.3 607.3,277.5 607.5,278.0 607.7,280.4 607.9,279.9 608.1,281.9 608.3,281.6 608.5,283.2 608.6,281.2 608.7,281.7 608.9,279.7 609.0,277.8 609.1,277.3 609.2,276.3 609.3,275.8 609.5,274.2 609.6,272.1 609.7,271.1 609.9,271.5 610.0,269.8 610.2,267.3 610.3,266.8 610.4,267.5 610.6,268.7 610.7,270.4 610.8,271.4 611.0,273.0 611.1,273.4 611.3,275.2 611.4,275.7 611.6,277.3 611.8,278.5 611.9,279.1 612.1,278.7 612.3,277.2 612.5,276.8 612.7,275.7 612.9,275.2 613.1,273.4 613.5,272.3 613.9,273.6 614.2,272.5 614.3,272.7 614.4,275.4 614.5,276.2 614.6,277.1 614.6,279.3 614.7,279.6 614.8,280.4 614.9,282.3 615.0,283.7 615.1,284.1 615.2,285.4 615.3,286.0 615.4,287.2 615.5,288.3 615.6,290.0 615.7,290.2 615.8,291.5 615.9,292.9 616.0,293.9 616.2,292.6 616.5,291.5 616.7,291.4 616.9,289.8 617.1,289.5 617.3,287.8 617.5,286.6 617.7,285.7 617.8,283.9 617.9,282.9 618.0,281.4 618.2,281.2 618.3,280.0 618.4,277.8 618.5,277.5 618.7,279.3 619.0,279.1 619.2,281.2 619.4,282.1 619.7,282.4 619.7,282.2 619.8,279.4 619.9,278.7 620.0,278.5 620.0,275.4 620.1,274.3 620.2,274.2 620.3,272.8 620.3,272.5 620.4,271.0 620.5,269.3 620.6,268.1 620.8,267.8 620.9,265.6 621.0,264.4 621.2,263.5 621.3,261.9 621.5,260.7 621.7,259.6 621.9,259.2 622.1,257.7 622.3,258.0 622.5,256.1 622.6,255.4 622.8,254.0 623.0,252.1 623.2,251.6 623.4,250.6 623.6,249.9 623.8,248.7 624.0,247.9 624.3,247.5 624.6,246.7 624.8,244.7 625.1,243.8 625.4,242.6 625.7,242.0 626.0,241.7 626.2,239.7 626.4,238.2 626.6,237.4 626.7,236.8 626.9,234.3 627.1,233.4 627.2,233.6 627.4,231.4 627.6,231.1 627.9,229.4 628.1,227.5 628.4,227.3 628.5,229.3 628.7,229.9 628.8,231.3 628.9,232.7 629.1,233.6 629.2,233.9 629.3,232.5 629.5,230.7 629.6,229.8 629.7,229.0 629.9,227.8 630.0,226.5 630.4,226.7 630.8,227.5 631.2,229.0 631.3,228.1 631.4,226.8 631.6,225.1 631.7,225.3 631.9,223.4 632.0,221.9 632.1,222.0 632.3,223.9 632.4,225.8 632.6,225.9 632.7,227.8 632.9,227.4 633.0,229.1 633.1,230.6 633.4,230.2 633.7,228.6 634.0,227.3 634.1,228.8 634.2,229.0 634.3,230.8 634.4,232.0 634.5,232.6 634.6,234.5 634.7,235.5 634.8,237.6 634.9,237.8 635.0,238.8 635.1,237.6 635.2,235.9 635.3,234.8 635.5,235.0 635.6,232.5 635.7,231.4 635.8,230.5 636.0,230.1 636.1,229.0 636.3,230.6 636.5,231.1 636.7,232.5 636.9,231.9 637.1,232.7 637.2,234.7 637.4,236.4 637.6,236.7 637.8,238.6 638.0,239.0 638.2,240.5 638.4,240.9 638.5,242.2 638.6,242.9 638.8,245.7 638.9,246.1 639.1,247.1 639.2,245.6 639.3,244.7 639.4,243.5 639.5,241.6 639.6,242.3 639.7,240.5 639.8,240.2 639.9,238.0 640.0,237.2 640.1,235.3 640.2,234.7 640.5,234.6 640.7,237.3 641.0,237.9 641.3,237.6 641.5,238.8 641.9,239.1 642.3,238.4 642.7,237.2 643.1,236.2 643.6,236.3 644.0,235.6 644.4,235.9 644.8,234.3 645.2,234.6 645.6,233.1 646.0,232.0 646.4,231.8 646.8,231.4 647.2,232.7 647.6,232.5 647.9,233.9 648.3,234.3 648.6,236.3 648.9,236.3 649.3,237.2 649.5,238.8 649.8,238.7 650.0,239.6 650.2,241.3 650.4,239.9 650.6,238.5 650.7,239.0 650.9,236.5 651.1,236.0 651.2,234.7 651.4,232.9 651.6,232.8 651.8,231.5 652.0,230.6 652.2,229.8 652.4,230.1 652.5,231.4 652.6,234.0 652.8,234.2 652.9,235.1 653.1,236.2 653.2,238.0 653.4,238.6 653.6,239.4 653.8,240.0 654.0,242.3 654.2,242.9 654.3,241.5 654.4,239.9 654.5,239.9 654.6,237.5 654.7,236.7 654.8,236.7 654.9,234.1 655.0,233.6 655.1,233.3 655.2,231.4 655.2,230.9 655.2,228.4 655.2,227.6 655.3,227.2 655.3,225.3 655.3,225.3 655.4,222.6 655.4,223.0 655.4,220.9 655.4,219.1 655.5,218.4 655.5,216.5 655.5,216.6 655.5,214.5 655.6,214.6 655.6,212.8 655.6,211.2 655.6,209.7 655.7,209.3 655.7,207.3 655.7,207.5 655.7,204.8 655.8,204.4 655.8,203.2 655.8,204.5 655.8,205.1 655.8,207.4 655.8,207.7 655.8,209.5 655.8,210.5 655.8,211.2 655.8,212.5 655.8,213.1 655.8,214.5 655.8,217.1 655.8,217.2 655.8,219.1 655.8,219.9 656.0,217.9 656.1,217.6 656.2,215.9 656.3,215.0 656.3,213.8 656.4,212.2 656.4,210.6 656.4,209.9 656.4,208.6 656.5,207.2 656.5,207.3 656.5,205.2 656.5,204.3 656.6,204.1 656.6,202.7 656.6,201.7 656.6,200.5 656.7,197.8 656.7,197.0 656.7,195.3 656.7,195.1 656.8,194.3 656.9,193.1 657.0,191.3 657.1,190.3 657.2,189.6 657.3,188.5 657.4,186.4 657.5,185.8 657.7,185.5 657.8,183.4 657.9,182.9 658.1,180.9 658.2,179.8 658.4,179.5 658.5,179.2 658.7,177.7 658.8,176.5 659.0,173.9 659.1,172.8 659.3,172.6 659.6,170.9 659.9,170.0 660.2,169.7 660.4,170.3 660.6,171.4 660.8,171.7 661.0,173.7 661.1,172.2 661.2,171.7 661.3,169.6 661.4,169.8 661.5,168.1 661.6,166.8 661.8,168.2 662.1,168.3 662.3,169.7 662.5,170.8 662.6,172.4 662.8,172.8 662.9,173.3 663.0,176.2 663.1,176.6 663.1,176.0 663.2,173.8 663.2,172.1 663.2,172.6 663.2,170.9 663.3,168.6 663.3,167.8 663.3,166.3 663.3,166.6 663.4,164.1 663.4,164.4 663.4,162.9 663.5,160.3 663.5,160.4 663.5,158.6 663.5,158.2 663.6,157.1 663.6,154.8 663.6,153.2 663.6,153.8 663.7,151.5 663.7,150.5 663.9,150.3 664.0,148.6 664.2,147.5 664.3,146.6 664.5,144.7 664.6,143.8 664.8,142.3 664.9,140.3 665.0,140.5 665.2,138.8 665.3,137.8 665.5,138.9 665.7,141.0 665.8,140.5 666.0,142.4 666.2,141.8 666.3,139.1 666.5,139.3 666.7,138.4 666.8,136.6 667.2,135.2 667.6,134.9 667.9,134.1 668.1,134.1 668.3,132.5 668.6,131.4 668.8,132.5 669.0,132.9 669.2,133.5 669.4,135.4 669.6,134.2 669.8,133.3 670.1,132.5 670.2,133.2 670.3,134.7 670.4,135.5 670.5,138.0 670.6,139.2 670.6,140.1 670.8,140.7 670.9,141.9 671.1,143.6 671.2,144.6 671.4,145.9 671.5,145.8 671.7,143.5 671.9,142.4 672.0,141.8 672.4,143.5 672.7,143.6 672.9,144.0 673.0,146.0 673.1,146.7 673.2,148.9 673.3,149.5 673.4,150.5 673.5,149.8 673.5,147.4 673.6,147.2 673.6,145.8 673.7,144.3 673.7,143.7 673.8,142.6 673.8,139.9 673.9,139.5 673.9,140.3 674.0,141.6 674.0,142.5 674.1,143.4 674.1,145.1 674.1,146.1 674.2,148.4 674.2,149.1 674.2,149.6 674.3,151.2 674.3,152.7 674.4,154.0 674.4,154.9 674.5,155.6 674.5,156.6 674.6,157.6 674.6,160.8 674.7,161.5 674.7,161.2 674.7,163.7 674.8,165.4 674.8,165.7 674.9,165.9 674.9,167.9 675.0,169.1 675.0,170.2 675.0,170.9 675.1,172.9 675.1,173.0 675.1,176.1 675.1,176.7 675.2,177.9 675.2,179.8 675.2,180.4 675.3,180.8 675.3,182.0 675.3,183.0 675.4,183.9 675.4,186.7 675.4,188.1 675.4,188.1 675.5,189.1 675.5,191.0 675.6,190.1 675.6,189.4 675.7,188.5 675.8,185.7 675.9,185.9 675.9,184.8 676.0,183.5 676.1,181.5 676.1,180.1 676.2,180.3 676.3,178.1 676.4,177.0 676.4,176.3 676.5,175.0 676.7,175.8 676.8,177.9 677.0,177.8 677.1,178.5 677.3,180.6 677.6,179.8 677.8,179.0 678.1,177.8 678.2,179.6 678.2,180.6 678.3,182.2 678.4,183.4 678.5,183.6 678.5,184.8 678.6,186.0 678.6,186.5 678.7,188.0 678.7,189.7 678.7,189.9 678.7,192.3 678.8,192.4 678.8,194.2 678.8,196.5 678.9,195.8 678.9,196.9 678.9,198.9 678.9,199.6 679.0,201.9 679.0,202.6 679.1,200.4 679.1,200.9 679.2,199.7 679.3,198.4 679.4,196.4 679.4,194.9 679.5,194.4 679.6,192.9 679.6,191.5 679.7,190.4 679.9,191.3 680.2,192.6 680.4,193.9 680.6,195.4 680.9,196.9 681.1,197.4 681.2,199.4 681.4,199.0 681.5,200.5 681.7,202.0 681.8,200.7 681.9,199.7 681.9,198.0 682.0,196.5 682.1,195.0 682.2,194.3 682.3,193.4 682.4,193.2 682.5,191.0 682.6,192.9 682.8,193.9 682.9,195.2 683.0,196.2 683.2,196.6 683.3,197.4 683.5,196.9 683.7,194.2 683.8,194.3 684.0,193.0 684.2,191.6 684.4,190.0 684.6,189.4 684.8,189.1 685.0,187.0 685.1,185.9 685.3,185.2 685.4,183.4 685.5,182.5 685.6,181.7 685.7,183.8 685.8,183.2 685.9,184.8 685.9,187.1 686.0,187.8 686.1,188.3 686.2,190.4 686.2,192.0 686.2,192.6 686.2,194.2 686.2,195.1 686.2,196.5 686.2,197.8 686.2,198.7 686.2,199.3 686.2,200.7 686.2,203.4 686.2,203.8 686.2,204.1 686.2,206.9 686.2,206.9 686.2,207.7 686.2,209.9 686.2,210.5 686.2,212.2 686.2,213.5 686.2,214.1 686.2,216.0 686.2,216.2 686.2,218.3 686.2,219.6 686.2,219.8 686.2,221.7 686.2,222.2 686.2,224.2 686.2,225.5 686.3,227.4 686.3,227.9 686.4,229.4 686.4,230.7 686.5,230.5 686.5,233.5 686.6,233.6 686.9,235.1 687.2,234.7 687.5,236.5 687.9,237.8 688.3,237.5 688.7,238.3 689.1,238.3 689.5,240.8 689.8,240.6 690.0,241.9 690.1,243.5 690.2,243.3 690.3,245.8 690.4,246.4 690.5,246.6 690.6,248.1 690.7,249.6 690.8,250.0 690.9,252.4 691.0,253.3 691.1,251.6 691.2,250.6 691.3,250.3 691.4,248.5 691.5,248.4 691.6,246.6 691.7,246.0 691.8,244.1 692.1,243.0 692.4,242.6 692.6,240.6 692.8,240.2 693.0,237.6 693.2,237.6 693.4,235.6 693.5,234.8 693.7,234.2 693.9,232.8 694.1,232.0 694.3,229.4 694.5,228.7 694.7,227.8 694.9,227.3 695.1,226.7 695.3,225.2 695.5,222.7 695.6,222.6 696.0,222.0 696.5,220.9 696.7,221.0 696.9,223.0 697.1,224.6 697.3,224.9 697.4,223.1 697.5,223.7 697.6,222.1 697.7,220.2 697.8,219.0 698.0,218.6 698.1,217.3 698.2,216.9 698.4,215.2 698.5,213.1 698.6,211.7 698.8,211.6 699.0,209.8 699.2,210.2 699.4,207.9 699.6,207.5 699.8,206.8 700.0,205.4 700.3,205.3 700.5,204.1 700.7,204.9 700.9,205.4 701.1,208.0 701.2,208.3 701.4,209.3 701.6,208.5 701.8,207.6 701.9,206.7 702.1,203.6 702.2,203.5 702.4,201.9 702.6,200.3 702.8,199.8 703.0,198.6 703.1,198.2 703.2,196.9 703.3,194.1 703.4,193.3 703.5,193.4 703.6,191.6 703.6,190.8 703.6,189.0 703.6,188.0 703.6,186.2 703.6,186.4 703.6,184.3 703.6,184.1 703.6,182.4 703.6,180.1 703.6,179.4 703.6,178.0 703.6,178.2 703.6,176.4 703.6,174.1 703.6,173.2 703.6,172.4 703.6,171.4 703.6,170.5 703.6,168.9 703.6,167.6 703.6,166.8 703.9,165.1 704.3,165.6 704.3,166.9 704.4,167.6 704.5,168.1 704.5,170.2 704.6,172.4 704.6,171.6 704.7,173.0 704.8,175.2 704.8,175.6 704.9,177.2 704.9,175.6 705.0,174.9 705.1,173.2 705.2,172.7 705.2,171.5 705.3,171.2 705.4,170.1 705.5,167.9 705.6,165.8 705.7,165.7 705.8,165.0 705.9,164.1 706.0,162.7 706.1,161.2 706.2,160.1 706.3,158.6 706.4,157.2 706.5,155.9 706.5,155.8 706.6,154.8 706.7,153.8 706.8,151.7 707.0,150.9 707.1,148.9 707.3,148.8 707.4,147.5 707.5,145.9 707.6,147.1 707.7,148.5 707.8,149.0 707.9,150.6 708.0,151.5 708.1,151.9 708.2,154.0 708.3,154.8 708.4,155.9 708.5,158.5 708.6,158.6 708.7,159.5 708.8,160.4 708.9,162.1 709.0,162.7 709.1,164.1 709.2,164.8 709.3,165.7 709.3,168.7 709.4,169.0 709.5,170.2 709.6,169.0 709.6,168.1 709.6,166.3 709.7,164.9 709.7,163.5 709.8,162.9 709.8,161.7 709.8,161.4 709.9,159.9 709.9,159.6 710.0,157.1 710.0,157.2 710.0,155.3 710.1,154.0 710.2,151.9 710.2,150.9 710.3,150.5 710.4,150.1 710.5,147.5 710.5,147.2 710.6,145.2 710.7,144.1 710.7,146.1 710.8,145.6 710.8,147.7 710.8,149.8 710.9,149.7 710.9,150.9 711.0,151.6 711.0,153.1 711.1,154.5 711.1,156.6 711.2,156.8 711.2,158.4 711.2,159.8 711.3,160.3 711.4,162.3 711.5,164.0 711.5,164.8 711.6,165.0 711.7,167.3 711.8,168.9 711.8,169.1 712.1,170.5 712.4,171.4 712.6,171.7 712.8,174.4 713.0,175.7 713.2,176.0 713.6,176.7 714.0,178.0 714.1,178.5 714.3,179.8 714.4,181.7 714.6,183.7 714.7,184.1 714.7,183.2 714.8,182.7 714.8,180.0 714.9,179.1 714.9,178.8 715.0,177.4 715.0,175.8 715.1,175.2 715.1,173.3 715.2,171.6 715.2,171.1 715.3,169.2 715.3,169.0 715.4,168.1 715.5,166.4 715.6,165.5 715.6,164.6 715.7,162.7 715.8,162.0 715.9,161.0 716.0,158.9 716.1,159.8 716.2,158.0 716.4,157.8 716.5,155.7 716.6,156.1 716.7,158.5 716.8,160.0 716.9,160.5 717.0,162.1 717.1,162.4 717.2,163.7 717.3,164.8 717.4,167.3 717.5,167.1 717.5,169.7 717.6,170.1 717.7,171.5 717.8,172.7 717.9,173.7 718.0,172.7 718.1,171.7 718.2,170.5 718.3,168.7 718.5,167.9 718.6,167.3 718.7,165.1 718.9,164.9 719.0,163.3 719.1,165.0 719.2,166.2 719.3,166.4 719.4,168.5 719.4,170.1 719.5,170.1 719.6,171.4 719.8,172.1 719.9,173.8 720.1,175.8 720.3,175.3 720.4,177.2 720.5,175.0 720.6,174.8 720.7,174.0 720.8,173.1 720.9,171.1 721.0,171.3 721.1,169.1 721.2,169.7 721.3,172.0 721.4,171.8 721.5,172.9 721.6,174.3 721.7,175.4 721.8,177.5 721.9,178.8 722.0,179.2 722.1,182.0 722.2,182.3 722.2,180.8 722.3,179.1 722.3,178.0 722.4,178.0 722.4,177.1 722.5,174.3 722.5,172.8 722.6,173.2 722.6,171.4 722.7,169.7 722.8,170.1 722.9,167.9 723.0,167.0 723.1,165.3 723.2,165.1 723.3,163.3 723.4,162.0 723.6,160.6 723.7,160.6 723.8,157.8 723.9,158.0 724.0,156.3 724.3,156.6 724.6,158.9 724.8,159.8 724.9,160.8 725.0,162.9 725.0,162.4 725.1,164.6 725.2,165.4 725.2,167.6 725.3,168.9 725.3,169.3 725.4,170.2 725.5,168.5 725.7,167.4 725.8,166.3 726.0,165.5 726.1,164.4 726.3,163.1 726.6,162.3 726.8,162.1 727.0,161.6 727.1,160.4 727.3,158.7 727.5,158.1 727.7,160.1 727.8,159.6 728.0,161.3 728.1,161.5 728.3,163.3 728.4,165.2 728.5,166.4 728.6,166.3 728.6,168.4 728.7,169.8 728.8,169.8 728.9,171.4 729.0,172.2 729.1,173.7 729.1,175.7 729.2,175.3 729.3,177.6 729.4,178.6 729.5,179.5 729.6,180.6 729.6,182.0 729.7,183.8 729.8,183.5 729.9,186.1 730.0,186.1 730.0,188.2 730.1,189.5 730.2,189.2 730.3,191.0 730.4,193.0 730.5,194.6 730.6,194.4 730.7,195.0 730.9,196.5 731.0,198.6 731.2,198.4 731.4,195.2 731.6,195.9 731.8,193.9 732.1,192.0 732.3,192.1 732.6,190.4 732.9,188.8 733.2,188.2 733.5,188.1 733.8,187.7 734.1,185.7 734.5,185.8 734.6,184.2 734.7,184.2 734.8,182.6 734.9,181.7 735.0,180.7 735.1,177.5 735.2,176.7 735.3,176.0 735.5,175.9 735.8,174.9 736.1,173.7 736.2,173.9 736.3,176.1 736.4,176.6 736.5,178.2 736.6,178.7 736.7,179.7 736.8,181.8 737.0,181.7 737.3,179.1 737.6,178.4 737.8,180.3 738.0,179.9 738.2,181.8 738.4,183.0 738.5,181.1 738.6,180.5 738.8,178.8 738.9,178.7 739.0,176.5 739.1,176.0 739.4,175.8 739.6,174.5 739.9,173.7 740.2,174.1 740.5,175.7 740.7,177.2 741.0,176.4 741.2,176.5 741.4,174.9 741.5,175.8 741.5,176.7 741.6,179.4 741.7,180.5 741.7,181.3 741.8,181.6 741.8,182.6 741.9,183.9 741.9,184.7 742.0,185.9 742.1,188.0 742.1,189.0 742.2,190.5 742.2,191.6 742.3,192.5 742.4,192.9 742.4,195.5 742.5,196.6 742.6,197.5 742.6,198.7 742.7,200.1 742.7,201.9 742.8,202.0 742.9,201.7 743.0,200.2 743.0,198.3 743.1,197.0 743.2,196.1 743.3,196.1 743.3,193.7 743.4,192.5 743.5,191.6 743.5,192.6 743.6,193.2 743.6,196.2 743.7,195.3 743.7,197.8 743.7,199.6 743.8,199.4 743.8,201.4 743.9,202.1 743.9,203.0 743.9,204.1 744.0,205.1 744.0,207.8 744.0,208.9 744.1,210.3 744.1,209.7 744.2,212.3 744.2,213.1 744.3,211.5 744.3,211.0 744.4,209.5 744.4,207.9 744.5,208.0 744.5,204.8 744.6,205.1 744.6,204.2 744.7,202.2 744.7,201.2 744.8,200.8 744.8,198.0 744.9,197.4 744.9,196.5 745.0,195.5 745.0,193.6 745.1,193.1 745.1,191.3 745.2,190.3 745.2,189.3 745.2,188.3 745.3,186.4 745.3,185.8 745.4,184.5 745.4,182.6 745.5,182.2 745.5,180.3 745.5,180.5 745.6,178.4 745.6,177.7 745.7,176.1 745.7,174.9 745.9,173.7 746.0,172.0 746.2,170.6 746.4,171.1 746.5,169.1 746.9,168.6 747.2,167.9 747.5,169.1 747.8,170.3 748.0,171.4 748.2,173.2 748.4,173.1 748.5,174.1 748.7,176.0 748.7,175.4 748.8,173.4 748.8,172.5 748.8,171.6 748.8,169.7 748.9,171.6 748.9,172.7 749.0,172.2 749.0,174.0 749.0,176.1 749.1,177.2 749.1,176.9 749.1,178.2 749.2,179.5 749.2,180.4 749.3,182.3 749.3,180.8 749.3,180.6 749.3,178.8 749.4,177.4 749.4,175.4 749.4,174.9 749.4,174.9 749.5,173.1 749.5,171.4 749.5,170.2 749.5,169.1 749.6,170.9 749.6,172.0 749.6,171.9 749.6,174.2 749.6,174.7 749.6,176.2 749.6,176.8 749.6,178.3 749.6,179.4 749.7,180.7 749.7,181.1 749.7,182.6 749.7,184.6 749.7,184.7 749.7,186.2 749.7,188.5 749.7,188.7 749.7,190.0 749.8,191.0 749.8,193.4 749.8,193.1 749.8,195.1 749.9,196.6 750.0,198.3 750.2,198.2 750.3,199.9 750.4,201.9 750.5,202.6 750.6,204.0 750.7,204.8 750.8,205.3 751.0,207.4 751.1,208.5 751.2,210.0 751.2,211.6 751.2,211.9 751.2,213.3 751.3,214.9 751.3,216.4 751.3,216.6 751.3,217.9 751.4,219.4 751.4,220.4 751.5,220.1 751.7,217.4 751.9,217.8 752.0,215.6 752.1,214.8 752.2,212.9 752.3,212.3 752.4,210.3 752.6,208.5 752.7,208.2 752.9,207.6 753.1,205.6 753.3,204.7 753.4,203.5 753.5,202.2 753.6,201.9 753.7,200.4 753.8,197.6 753.9,197.6 754.0,196.2 754.1,194.9 754.3,193.7 754.4,193.2 754.5,191.1 754.6,190.0 754.7,189.7 754.8,187.7 755.1,186.8 755.4,186.2 755.6,185.5 755.8,186.6 755.9,188.3 756.0,189.1 756.2,190.3 756.3,190.8 756.4,189.4 756.5,187.5 756.5,187.6 756.6,186.1 756.7,185.3 756.8,184.1 756.9,182.3 757.1,180.6 757.3,179.9 757.6,178.7 757.8,178.6 758.1,178.5 758.5,177.0 758.7,177.2 758.9,178.3 759.1,180.7 759.4,181.3 759.7,180.6 760.1,179.7 760.2,179.9 760.4,182.4 760.5,183.6 760.6,184.3 760.7,185.5 760.9,185.7 761.0,188.1 761.1,188.5 761.2,190.0 761.4,191.9 761.5,191.9 761.8,191.5 762.0,189.8 762.1,191.8 762.2,191.4 762.2,193.0 762.3,194.6 762.4,194.7 762.4,198.0 762.5,197.7 762.5,199.4 762.6,197.7 762.7,196.6 762.8,195.3 762.9,195.4 763.0,193.6 763.0,192.3 763.1,190.9 763.2,189.0 763.3,188.7 763.4,187.1 763.4,187.2 763.5,185.8 763.6,184.8 763.6,182.4 763.7,181.1 763.7,179.6 763.8,179.4 763.9,177.9 763.9,177.0 764.0,178.1 764.1,179.4 764.1,180.8 764.2,181.5 764.3,183.6 764.3,183.6 764.4,186.3 764.5,186.6 764.7,187.8 764.8,187.8 765.0,189.4 765.2,190.8 765.4,189.7 765.5,188.3 765.7,187.5 765.8,185.8 766.0,185.0 766.1,185.7 766.2,187.9 766.3,188.0 766.4,190.0 766.5,191.4 766.6,191.9 766.7,191.0 766.7,189.6 766.8,189.4 766.9,187.3 766.9,187.1 767.0,184.2 767.1,183.9 767.1,182.9 767.2,184.4 767.3,184.4 767.3,187.3 767.4,186.9 767.5,189.2 767.5,189.5 767.6,192.3 767.6,192.8 767.7,194.5 767.8,195.1 767.8,196.3 767.9,197.8 768.0,199.0 768.0,199.4 768.1,200.4 768.2,202.9 768.3,202.6 768.3,205.4 768.4,205.7 768.4,206.3 768.5,207.2 768.5,208.3 768.6,210.8 768.6,211.4 768.8,213.4 768.9,213.3 769.1,214.9 769.3,215.6 769.4,213.9 769.5,213.9 769.6,212.2 769.7,209.8 769.8,209.3 769.9,209.5 769.9,212.1 770.0,211.9 770.1,214.8 770.1,214.8 770.2,215.9 770.3,217.8 770.3,218.8 770.4,219.7 770.5,221.4 770.6,221.8 770.7,224.7 770.8,224.7 770.9,226.3 770.9,225.8 771.0,223.2 771.1,223.3 771.2,222.5 771.3,220.1 771.4,218.1 771.5,217.6 771.6,216.7 771.7,218.1 771.8,218.4 771.8,220.2 771.9,220.3 772.0,222.2 772.1,223.9 772.2,224.4 772.3,226.1 772.3,226.8 772.5,224.8 772.6,225.2 772.7,222.5 772.9,223.0 773.0,221.0 773.2,220.9 773.4,219.8 773.5,217.8 773.7,216.7 774.1,215.5 774.6,215.1 774.7,215.9 774.8,217.9 774.9,218.6 775.1,220.6 775.2,220.0 775.3,222.0 775.4,223.1 775.5,225.1 775.5,225.6 775.6,226.7 775.7,226.9 775.8,228.1 775.9,230.0 775.9,228.4 776.0,228.6 776.1,227.3 776.2,224.9 776.3,225.2 776.4,222.2 776.5,222.3 776.6,221.0 776.8,220.9 777.0,218.5 777.2,217.8 777.4,219.9 777.5,220.4 777.6,220.3 777.7,222.0 777.9,223.4 778.0,224.7 778.1,225.3 778.2,227.5 778.3,227.5 778.4,229.9 778.5,230.0 778.6,231.6 778.7,231.8 778.9,233.8 779.0,233.9 779.1,236.0 779.3,236.9 779.5,238.6 779.7,239.2 779.9,240.1 780.0,238.8 780.1,236.6 780.1,236.4 780.2,234.3 780.3,234.2 780.4,231.9 780.5,231.6 780.6,229.9 780.6,228.9 780.7,229.8 780.8,231.5 780.9,231.6 781.0,232.7 781.1,235.5 781.1,235.3 781.2,237.5 781.3,238.7 781.4,239.0 781.4,237.8 781.5,236.0 781.6,234.7 781.6,235.2 781.7,232.4 781.8,232.0 781.8,230.9 781.9,228.9 782.0,228.4 782.0,227.3 782.3,227.3 782.5,228.8 782.8,229.5 782.8,228.3 782.8,226.8 782.9,225.3 782.9,224.6 783.0,223.0 783.0,221.6 783.0,220.7 783.1,220.8 783.1,218.9 783.1,218.5 783.2,215.5 783.2,216.3 783.3,214.1 783.3,213.0 783.4,214.7 783.4,215.4 783.5,216.8 783.6,216.9 783.6,219.2 783.7,219.0 783.8,220.4 783.8,222.0 784.0,222.2 784.1,224.1 784.3,225.6 784.4,226.3 784.6,227.9 784.7,227.6 784.7,224.7 784.8,224.6 784.9,222.8 785.0,222.4 785.1,221.7 785.1,220.4 785.2,218.8 785.4,219.1 785.6,220.7 785.8,222.6 786.0,223.6 786.0,225.8 786.1,224.9 786.2,227.2 786.3,228.5 786.4,229.9 786.5,230.0 786.5,232.1 786.6,232.5 786.7,233.7 786.8,233.4 786.9,230.2 787.0,230.9 787.1,228.6 787.2,227.3 787.3,226.3 787.5,224.2 787.6,223.3 787.7,223.0 787.8,221.7 788.0,219.3 788.1,218.8 788.3,217.4 788.5,215.9 788.6,215.0 788.8,214.6 789.0,212.8 789.1,211.9 789.2,212.1 789.3,210.9 789.5,208.7 789.8,208.5 790.2,207.1 790.6,206.3 791.0,205.5 791.2,206.5 791.4,208.0 791.6,209.2 791.8,209.3 792.1,210.9 792.4,211.7 792.7,212.4 793.0,212.6 793.4,214.0 793.5,215.4 793.6,216.9 793.7,217.8 793.8,217.4 793.9,219.4 794.0,218.7 794.1,216.8 794.2,215.2 794.3,215.8 794.4,214.0 794.5,213.0 794.6,211.4 794.7,209.5 794.8,209.8 794.9,208.9 795.0,206.8 795.1,206.5 795.2,204.9 795.2,203.9 795.3,202.7 795.4,201.0 795.5,199.5 795.6,199.1 795.6,197.2 795.8,196.8 796.0,195.9 796.2,193.6 796.4,193.0 796.8,194.5 797.1,194.0 797.4,195.0 797.6,196.7 797.9,196.7 798.1,197.1 798.3,200.2 798.5,200.4 798.6,199.8 798.8,197.5 798.9,197.5 799.0,195.6 799.4,195.9 799.7,197.2 799.8,197.8 799.9,199.6 800.0,200.4 800.1,202.2 800.2,204.3 800.3,204.7 800.5,206.1 800.6,207.2 800.8,207.6 800.9,209.5 801.1,210.0 801.1,209.4 801.2,208.0 801.2,207.4 801.3,206.0 801.3,204.0 801.4,202.1 801.4,202.1 801.5,201.3 801.5,199.1 801.6,198.3 802.0,198.0 802.5,197.2 802.9,198.5 803.3,198.3 803.4,200.0 803.6,199.4 803.7,201.5 803.8,202.6 803.9,202.8 803.9,204.3 803.9,207.0 804.0,207.4 804.0,209.1 804.0,210.0 804.0,211.4 804.1,212.2 804.2,213.1 804.2,214.6 804.3,216.8 804.3,217.5 804.4,218.0 804.5,218.8 804.5,220.4 804.6,222.0 804.7,223.5 804.8,224.0 805.0,225.6 805.1,226.3 805.2,228.1 805.3,227.9 805.3,230.3 805.4,230.2 805.5,233.0 805.6,232.9 805.6,234.8 805.7,235.5 805.7,238.1 805.8,238.0 805.8,238.9 805.9,241.4 805.9,242.0 806.0,243.7 806.0,243.8 806.1,245.2 806.1,247.3 806.2,247.6 806.2,248.8 806.2,251.0 806.2,250.5 806.2,253.1 806.2,252.9 806.2,254.8 806.2,254.9 806.2,256.5 806.2,259.3 806.2,259.5 806.2,261.4 806.2,261.5 806.2,263.2 806.3,261.7 806.3,260.0 806.4,259.8 806.4,259.3 806.4,257.4 806.5,256.0 806.5,256.0 806.6,254.7 806.6,252.8 806.6,254.3 806.6,254.2 806.7,256.5 806.7,257.3 806.7,259.5 806.7,259.4 806.8,261.2 806.8,262.3 806.8,262.9 806.8,264.4 806.8,265.9 806.9,267.5 806.9,267.8 806.9,268.7 806.9,270.1 807.0,272.4 807.0,271.7 807.0,274.5 807.1,275.5 807.1,276.4 807.2,277.4 807.2,279.3 807.2,280.8 807.3,281.7 807.3,283.0 807.3,282.7 807.4,284.6 807.4,285.4 807.4,288.3 807.5,289.4 807.5,289.9 807.6,288.0 807.6,287.7 807.7,286.5 807.8,284.3 807.8,283.8 807.9,283.4 807.9,282.0 808.0,280.1 808.0,280.0 808.1,278.3 808.1,276.7 808.2,276.0 808.2,274.6 808.3,274.6 808.3,272.8 808.4,271.9 808.4,270.5 808.5,268.7 808.5,268.8 808.5,267.1 808.6,265.9 808.6,263.9 808.7,263.2 808.7,261.3 808.8,260.9 808.9,260.2 808.9,258.9 809.0,256.7 809.1,255.1 809.1,254.6 809.2,254.2 809.2,251.4 809.3,251.4 809.4,249.7 809.4,247.8 809.4,246.8 809.5,245.1 809.5,244.4 809.5,243.3 809.6,243.3 809.6,242.1 809.6,239.2 809.6,238.3 809.7,237.4 809.8,239.5 809.8,239.1 809.9,240.5 810.0,241.9 810.1,242.3 810.1,243.8 810.2,245.4 810.4,244.1 810.6,243.1 810.7,242.2 810.8,244.4 810.9,244.2 811.0,245.3 811.1,248.1 811.2,248.3 811.3,249.7 811.3,249.2 811.4,247.6 811.4,246.6 811.5,244.5 811.5,242.9 811.6,243.0 811.6,241.2 811.7,240.2 811.7,239.2 811.8,238.2 811.8,235.9 811.9,234.9 811.9,234.9 812.0,232.9 812.0,231.6 812.3,230.6 812.7,230.5 812.8,231.9 812.9,232.2 813.0,234.3 813.2,233.8 813.3,235.8 813.4,237.6 813.6,238.1 813.7,238.7 813.8,241.0 813.9,241.2 814.0,239.4 814.0,238.1 814.1,236.5 814.1,236.3 814.2,235.5 814.2,234.1 814.2,232.3 814.3,231.9 814.3,229.2 814.4,228.4 814.4,227.8 814.5,226.3 814.5,226.1 814.6,224.2 814.6,223.1 814.7,222.1 814.8,220.1 814.8,220.1 814.9,218.5 814.9,216.5 815.0,215.6 815.0,214.2 815.0,213.9 815.1,211.8 815.1,210.2 815.1,210.5 815.1,208.6 815.1,207.4 815.2,206.5 815.2,205.8 815.2,203.0 815.2,202.6 815.3,201.0 815.4,199.2 815.5,198.6 815.6,197.6 815.7,197.1 815.7,195.1 815.9,194.4 816.0,193.1 816.2,191.7 816.3,191.0 816.5,189.8 816.6,188.1 816.7,188.2 816.9,186.9 817.0,185.8 817.1,183.9 817.3,184.4 817.4,186.6 817.5,187.9 817.6,188.5 817.7,190.5 817.9,190.8 817.9,192.9 818.0,193.7 818.0,195.0 818.1,195.8 818.1,197.5 818.2,197.1 818.2,199.5 818.3,200.6 818.3,201.6 818.4,202.6 818.5,200.9 818.6,199.3 818.6,199.2 818.7,198.5 818.8,196.2 818.9,194.9 819.0,193.7 819.1,192.2 819.1,191.9 819.3,191.2 819.5,190.8 819.6,189.4 819.8,187.7 820.0,186.1 820.1,185.6 820.3,183.9 820.3,184.2 820.3,187.1 820.4,187.2 820.4,187.7 820.4,190.2 820.4,190.4 820.4,191.9 820.4,192.7 820.4,194.7 820.5,196.1 820.5,197.9 820.5,197.5 820.5,200.3 820.5,200.0 820.5,201.5 820.5,203.5 820.5,204.1 820.6,205.3 820.6,207.0 820.6,207.5 820.6,209.9 820.6,209.9 820.6,212.4 820.6,213.5 820.6,214.2 820.7,214.3 820.7,217.1 820.7,216.7 820.7,218.9 820.7,220.0 820.7,220.4 820.7,222.6 820.8,221.7 820.9,220.7 821.0,219.3 821.1,217.8 821.2,216.9 821.3,215.9 821.4,214.6 821.5,212.9 821.6,213.2 821.8,212.4 821.9,211.0 822.0,210.2 822.1,208.2 822.3,208.9 822.5,211.3 822.7,210.5 822.9,212.4 823.0,211.3 823.1,209.6 823.3,209.2 823.4,208.6 823.5,207.1 823.6,206.3 823.7,204.7 823.8,203.5 824.0,202.2 824.1,200.8 824.2,200.2 824.4,199.4 824.6,200.0 824.8,200.8 825.0,202.6 825.1,204.2 825.1,204.8 825.2,205.7 825.3,206.3 825.4,208.5 825.5,208.6 825.5,209.8 825.6,211.4 825.8,212.6 825.9,213.9 826.1,215.6 826.2,216.2 826.4,216.7 826.4,216.4 826.5,215.2 826.5,213.5 826.6,212.3 826.6,209.7 826.7,208.8 826.8,207.2 826.8,207.0 826.8,209.0 826.9,209.9 826.9,210.9 826.9,211.4 826.9,212.8 827.0,213.6 827.0,215.8 827.0,217.8 827.0,217.6 827.1,218.2 827.1,220.4 827.2,218.5 827.2,217.7 827.3,217.6 827.3,216.2 827.4,214.3 827.5,212.4 827.5,211.2 827.6,210.1 827.6,210.2 827.7,208.3 827.7,208.2 827.8,206.0 827.9,208.0 827.9,208.9 828.0,209.3 828.0,211.2 828.1,210.8 828.2,211.9 828.2,214.0 828.3,215.0 828.5,216.3 828.6,216.9 828.8,218.8 828.9,219.3 829.0,219.9 829.2,222.8 829.3,223.5 829.4,224.1 829.5,226.2 829.5,227.4 829.6,227.4 829.6,229.1 829.7,229.5 829.8,231.6 829.8,232.8 829.9,233.2 830.0,231.3 830.1,229.9 830.2,229.1 830.4,228.8 830.5,227.2 830.6,226.3 830.7,224.2 830.8,224.9 830.9,223.7 831.1,221.9 831.2,220.0 831.3,220.7 831.4,218.8 831.6,217.8 831.8,215.8 832.0,215.3 832.2,214.6 832.4,213.8 832.7,213.3 832.9,211.3 833.1,210.3 833.2,209.5 833.3,207.5 833.4,206.4 833.5,206.7 833.6,204.5 833.7,202.8 833.8,202.6 833.9,201.5 833.9,199.4 833.9,198.3 833.9,197.7 833.9,196.7 834.0,195.7 834.0,194.6 834.0,192.8 834.0,190.9 834.1,191.1 834.1,188.4 834.1,188.1 834.1,186.8 834.1,186.2 834.2,185.0 834.2,182.9 834.2,182.5 834.2,181.4 834.2,179.8 834.3,177.9 834.3,178.3 834.3,176.4 834.3,174.1 834.4,173.8 834.4,172.1 834.4,172.5 834.4,169.8 834.5,169.0 834.5,168.7 834.5,167.6 834.5,166.0 834.6,165.1 834.6,162.5 834.6,161.5 834.7,162.2 834.7,160.0 834.7,161.8 834.8,161.4 834.8,162.6 834.9,164.2 835.0,166.8 835.0,166.5 835.1,168.6 835.1,170.4 835.2,170.9 835.2,172.7 835.3,173.0 835.4,171.3 835.4,169.8 835.5,168.3 835.5,168.6 835.6,166.0 835.6,166.6 835.7,164.8 835.7,162.4 835.8,162.5 835.9,160.6 835.9,158.7 836.0,158.2 836.0,156.2 836.1,156.4 836.2,155.5 836.2,154.3 836.3,151.2 836.3,151.8 836.4,149.9 836.5,148.8 836.5,148.2 836.6,146.4 836.6,145.4 836.7,144.2 836.7,143.5 836.8,140.8 836.8,139.5 836.9,139.3 837.0,138.1 837.1,136.4 837.1,135.3 837.2,133.3 837.3,133.6 837.4,131.8 837.5,131.9 837.6,134.6 837.8,135.6 837.9,136.0 838.0,137.1 838.1,135.1 838.2,134.9 838.2,132.8 838.3,132.0 838.4,130.1 838.5,129.7 838.7,129.6 839.0,127.6 839.2,126.2 839.4,125.4 839.8,123.8 840.1,123.9 840.5,123.9 840.8,123.6 841.2,122.3 841.5,123.5 841.9,123.3 842.0,123.7 842.1,125.5 842.2,126.6 842.3,128.9 842.4,128.8 842.5,130.8 842.6,132.2 842.7,134.1 842.7,134.8 842.8,134.3 842.9,135.6 842.9,136.8 843.0,138.7 843.0,137.9 843.1,136.5 843.1,135.2 843.2,133.8 843.2,132.5 843.3,131.8 843.4,130.7 843.4,130.0 843.5,128.5 843.5,127.4 843.6,126.5 843.6,124.4 843.8,126.2 844.0,127.0 844.2,126.6 844.4,128.6 844.5,130.1 844.7,131.5 844.8,131.7 845.0,133.7 845.1,134.0 845.2,134.5 845.2,137.3 845.3,137.4 845.4,139.2 845.5,139.4 845.6,140.7 845.6,142.0 845.7,143.5 845.8,144.3 845.8,144.9 845.9,146.8 845.9,149.1 846.0,149.5 846.0,151.2 846.1,152.0 846.1,152.6 846.1,152.1 846.1,151.2 846.2,149.5 846.2,147.3 846.2,146.1 846.2,145.2 846.2,143.2 846.3,142.4 846.3,142.6 846.3,141.5 846.3,139.0 846.3,138.8 846.4,137.6 846.4,136.6 846.4,135.2 846.4,133.5 846.4,131.4 846.5,131.7 846.5,129.4 846.5,128.6 846.6,127.7 846.6,126.0 846.7,125.3 846.8,125.0 846.9,122.2 846.9,121.8 847.0,120.9 847.1,119.6 847.1,119.3 847.2,117.2 847.3,118.2 847.5,120.4 847.6,121.1 847.8,122.9 847.9,123.1 848.1,123.4 848.2,124.7 848.4,126.0 848.6,127.6 848.6,127.2 848.7,124.1 848.7,123.4 848.8,123.1 848.8,122.4 848.8,119.5 848.9,118.8 848.9,117.7 849.0,116.9 849.1,115.7 849.2,114.6 849.2,113.4 849.3,111.1 849.4,109.9 849.5,109.2 849.5,109.4 849.6,112.0 849.6,112.2 849.6,113.5 849.6,116.2 849.7,116.7 849.7,117.8 849.7,119.2 849.8,120.2 849.8,121.7 849.8,122.0 849.8,122.7 849.9,124.0 849.9,125.0 849.9,127.0 850.0,127.7 850.0,128.9 850.0,130.9 850.0,133.1 850.1,133.7 850.1,134.5 850.1,132.8 850.2,132.7 850.2,130.3 850.2,128.9 850.2,128.2 850.3,127.2 850.3,126.6 850.3,124.9 850.3,124.3 850.4,121.8 850.4,122.4 850.4,120.0 850.4,119.8 850.5,116.9 850.5,117.4 850.5,115.0 850.5,115.1 850.6,113.8 850.6,112.0 850.6,111.2 850.6,109.2 850.6,107.5 850.7,106.7 850.7,107.1 850.7,104.3 850.7,103.9 850.8,103.1 850.9,101.8 851.1,100.8 851.2,98.6 851.3,98.1 851.4,98.5 851.5,99.5 851.6,102.5 851.6,102.4 851.7,104.0 851.8,105.0 851.9,105.4 852.0,107.1 852.1,105.0 852.2,103.7 852.2,104.2 852.3,101.5 852.4,102.0 852.5,99.5 852.5,98.6 852.7,100.1 852.9,100.0 853.0,102.4 853.2,102.9 853.3,101.3 853.4,100.5 853.5,99.7 853.7,97.8 853.8,97.0 853.9,96.5 853.9,98.3 854.0,98.4 854.0,99.8 854.0,101.8 854.1,101.9 854.1,103.0 854.2,104.3 854.2,105.8 854.2,107.0 854.3,108.7 854.3,109.6 854.4,111.6 854.4,111.1 854.4,113.6 854.5,115.1 854.5,115.6 854.6,113.9 854.6,112.3 854.7,112.0 854.7,110.1 854.8,109.7 854.9,109.0 854.9,106.6 855.0,105.4 855.0,105.0 855.1,103.9 855.3,102.0 855.5,100.9 855.7,100.2 855.9,99.1 856.0,97.2 856.2,96.1 856.4,95.7 856.6,94.9 856.8,93.6 857.0,93.4 857.1,91.4 857.3,90.1 857.4,88.1 857.6,87.4 857.7,87.4 857.9,86.0 858.0,84.8 858.1,84.5 858.2,83.6 858.4,82.3 858.5,80.5 858.7,78.6 858.8,79.3 859.0,77.3 859.1,78.4 859.2,78.9 859.4,79.8 859.5,82.3 859.6,82.6 859.8,83.1 859.9,83.9 860.1,85.8 860.2,84.0 860.3,84.1 860.4,81.9 860.5,81.2 860.6,79.4 861.2,78.9 861.3,79.2 861.3,81.1 861.4,82.0 861.5,82.9 861.5,85.0 861.6,85.8 861.8,86.6 861.9,87.1 862.1,89.0 862.2,91.1 862.4,91.1 862.6,91.6 862.7,93.3 862.7,93.5 862.8,96.0 862.8,97.0 862.8,97.2 862.9,99.3 862.9,101.1 863.0,101.9 863.0,102.5 863.0,104.2 863.1,105.7 863.1,107.0 863.1,107.1 863.2,109.7 863.2,110.3 863.3,110.1 863.3,108.4 863.4,107.5 863.4,105.3 863.5,105.3 863.5,102.6 863.6,101.5 863.6,101.1 863.7,99.7 863.9,101.6 864.0,100.9 864.1,102.3 864.3,103.9 864.4,101.9 864.5,101.7 864.6,100.0 864.7,99.0 864.8,98.6 864.9,98.1 865.0,96.7 865.1,96.3 865.2,94.2 865.3,93.3 865.6,93.1 866.0,92.2 866.1,92.2 866.2,95.3 866.3,94.8 866.4,96.4 866.5,97.5 866.5,98.7 866.6,100.9 866.6,101.1 866.6,103.4 866.7,103.8 866.7,104.1 866.7,106.6 866.8,106.5 866.8,109.4 866.8,109.5 866.9,110.2 866.9,112.9 866.9,112.8 867.0,114.2 867.0,115.6 867.1,114.1 867.1,113.6 867.2,111.1 867.2,110.7 867.3,109.0 867.3,109.3 867.4,106.4 867.4,106.5 867.5,104.6 867.5,103.9 867.7,102.6 867.9,101.6 868.1,100.2 868.3,101.5 868.4,101.2 868.6,102.9 868.7,103.5 868.7,104.5 868.8,107.4 868.8,106.9 868.9,108.0 868.9,110.0 869.0,111.3 869.0,113.1 869.1,113.5 869.4,111.5 869.6,110.8 869.9,110.3 870.0,110.9 870.1,113.0 870.2,114.0 870.3,115.2 870.4,116.7 870.5,118.8 870.6,119.5 870.7,121.2 870.7,122.6 870.8,122.4 870.9,125.1 871.0,125.4 871.2,124.2 871.4,122.4 871.5,123.1 871.7,121.2 871.8,121.4 872.0,122.3 872.1,124.0 872.3,125.0 872.4,127.5 872.5,127.6 872.7,129.4 872.8,129.6 873.0,130.9 873.1,132.6 873.3,133.6 873.4,134.0 873.5,135.5 873.6,136.5 873.7,136.8 873.8,138.3 873.9,140.4 874.0,141.5 874.1,142.5 874.3,142.1 874.4,141.2 874.6,140.2 874.7,137.5 874.9,137.1 875.1,135.1 875.2,135.8 875.4,134.1 875.5,132.2 875.7,131.8 875.9,131.2 876.1,129.2 876.3,128.1 876.5,127.6 876.6,126.3 876.8,125.5 876.9,124.8 877.0,122.4 877.2,122.8 877.3,121.2 877.4,120.3 877.5,118.8 877.6,117.7 877.8,117.0 877.9,116.2 878.1,113.5 878.2,113.5 878.2,114.6 878.3,116.2 878.3,117.4 878.4,118.4 878.4,118.6 878.4,121.4 878.5,122.1 878.5,122.1 878.6,123.7 878.6,125.0 878.7,127.2 878.8,126.9 878.9,128.6 879.0,131.0 879.1,131.3 879.2,131.0 879.3,128.5 879.4,128.4 879.5,126.4 879.6,125.9 879.7,125.0 879.8,123.3 879.8,121.4 879.9,120.5 879.9,119.4 879.9,118.3 880.0,116.7 880.0,116.6 880.3,115.1 880.6,115.0 880.9,114.5 881.1,113.3 881.4,111.5 881.6,111.4 881.9,112.6 882.1,113.5 882.2,115.5 882.3,115.8 882.4,116.4 882.5,118.2 882.6,118.7 882.7,119.9 882.8,118.2 882.9,117.7 883.0,115.7 883.1,116.0 883.2,114.6 883.4,114.9 883.5,116.7"/>
<g id="eps-bars" fill="rgba(255,0,89,0.5)">
<rect x="164.30" y="429.10" width="7.30" height="31.10"/>
<rect x="174.40" y="427.50" width="7.40" height="32.70"/>
<rect x="186.00" y="424.20" width="7.10" height="36.00"/>
<rect x="199.70" y="423.20" width="7.20" height="37.00"/>
<rect x="209.10" y="420.60" width="7.20" height="39.60"/>
<rect x="220.30" y="420.10" width="6.90" height="40.10"/>
<rect x="230.50" y="414.80" width="7.30" height="45.40"/>
<rect x="245.10" y="413.20" width="7.10" height="47.00"/>
<rect x="255.20" y="413.70" width="6.80" height="46.50"/>
<rect x="266.05" y="412.10" width="6.75" height="48.10"/>
<rect x="276.20" y="406.70" width="6.80" height="53.50"/>
<rect x="290.00" y="407.10" width="7.00" height="53.10"/>
<rect x="300.10" y="412.50" width="6.80" height="47.70"/>
<rect x="310.10" y="432.00" width="7.10" height="28.20"/>
<rect x="321.20" y="431.20" width="7.00" height="29.00"/>
<rect x="335.00" y="432.80" width="7.00" height="27.40"/>
<rect x="344.80" y="427.00" width="7.00" height="33.20"/>
<rect x="356.00" y="428.60" width="6.60" height="31.60"/>
<rect x="366.20" y="414.90" width="6.80" height="45.30"/>
<rect x="380.00" y="413.70" width="7.00" height="46.50"/>
<rect x="389.50" y="410.40" width="7.10" height="49.80"/>
<rect x="400.70" y="408.30" width="7.10" height="51.90"/>
<rect x="411.10" y="396.20" width="6.90" height="64.00"/>
<rect x="426.10" y="398.70" width="6.70" height="61.50"/>
<rect x="434.10" y="397.20" width="7.10" height="63.00"/>
<rect x="445.50" y="397.20" width="7.00" height="63.00"/>
<rect x="456.00" y="387.40" width="7.00" height="72.80"/>
<rect x="471.40" y="386.40" width="6.80" height="73.80"/>
<rect x="480.40" y="393.30" width="6.80" height="66.90"/>
<rect x="491.30" y="400.10" width="6.80" height="60.10"/>
<rect x="502.30" y="390.90" width="6.70" height="69.30"/>
<rect x="516.30" y="397.20" width="6.90" height="63.00"/>
<rect x="525.10" y="394.20" width="6.90" height="66.00"/>
<rect x="535.90" y="402.00" width="7.00" height="58.20"/>
<rect x="547.00" y="389.90" width="6.90" height="70.30"/>
<rect x="561.10" y="392.90" width="7.00" height="67.30"/>
<rect x="569.70" y="397.20" width="6.90" height="63.00"/>
<rect x="581.20" y="404.40" width="6.70" height="55.80"/>
<rect x="592.20" y="391.70" width="6.70" height="68.50"/>
<rect x="605.60" y="396.40" width="7.00" height="63.80"/>
<rect x="614.50" y="401.10" width="6.90" height="59.10"/>
<rect x="625.80" y="407.50" width="7.00" height="52.70"/>
<rect x="637.00" y="390.70" width="6.80" height="69.50"/>
<rect x="651.30" y="392.70" width="7.00" height="67.50"/>
<rect x="660.40" y="397.20" width="7.00" height="63.00"/>
<rect x="670.90" y="398.70" width="6.90" height="61.50"/>
<rect x="682.90" y="388.00" width="6.80" height="72.20"/>
<rect x="696.40" y="389.10" width="6.90" height="71.10"/>
<rect x="704.90" y="390.70" width="7.20" height="69.50"/>
<rect x="716.40" y="371.40" width="6.80" height="88.80"/>
<rect x="727.60" y="368.30" width="6.90" height="91.90"/>
<rect x="741.30" y="372.40" width="6.90" height="87.80"/>
<rect x="750.10" y="372.00" width="6.90" height="88.20"/>
<rect x="761.30" y="378.00" width="6.70" height="82.20"/>
<rect x="772.30" y="364.10" width="7.20" height="96.10"/>
<rect x="784.90" y="374.10" width="7.00" height="86.10"/>
<rect x="794.50" y="380.20" width="7.00" height="80.00"/>
<rect x="806.10" y="393.80" width="6.90" height="66.40"/>
<rect x="817.10" y="367.30" width="7.00" height="92.90"/>
<rect x="831.30" y="388.00" width="7.00" height="72.20"/>
<rect x="840.20" y="387.40" width="7.00" height="72.80"/>
<rect x="851.00" y="391.90" width="7.00" height="68.30"/>
<rect x="862.20" y="366.10" width="7.00" height="94.10"/>
<rect x="875.10" y="376.60" width="7.00" height="83.60"/>
<rect x="875.10" y="376.60" width="7.00" height="83.60"/>
</g>
<g id="div-bars" fill="rgba(218,165,32,0.6)">
<rect x="165.00" y="450.80" width="7.00" height="9.40"/>
<rect x="175.10" y="450.80" width="7.00" height="9.40"/>
<rect x="186.70" y="450.80" width="7.00" height="9.40"/>
<rect x="200.40" y="450.80" width="7.00" height="9.40"/>
<rect x="209.80" y="450.80" width="7.00" height="9.40"/>
<rect x="221.00" y="448.00" width="7.00" height="12.20"/>
<rect x="231.20" y="448.00" width="7.00" height="12.20"/>
<rect x="245.80" y="448.00" width="7.00" height="12.20"/>
<rect x="255.90" y="448.00" width="7.00" height="12.20"/>
<rect x="266.75" y="447.60" width="7.00" height="12.60"/>
<rect x="276.90" y="447.60" width="7.00" height="12.60"/>
<rect x="290.70" y="447.60" width="7.00" height="12.60"/>
<rect x="300.80" y="447.60" width="7.00" height="12.60"/>
<rect x="310.80" y="447.60" width="7.00" height="12.60"/>
<rect x="321.90" y="447.60" width="7.00" height="12.60"/>
<rect x="335.70" y="447.60" width="7.00" height="12.60"/>
<rect x="345.50" y="447.60" width="7.00" height="12.60"/>
<rect x="356.70" y="447.60" width="7.00" height="12.60"/>
<rect x="366.90" y="445.10" width="7.00" height="15.10"/>
<rect x="381.10" y="379.60" width="7.00" height="80.60"/>
<rect x="390.20" y="445.10" width="7.00" height="15.10"/>
<rect x="401.40" y="445.10" width="7.00" height="15.10"/>
<rect x="411.80" y="445.10" width="7.00" height="15.10"/>
<rect x="426.80" y="443.30" width="7.00" height="16.90"/>
<rect x="434.80" y="443.30" width="7.00" height="16.90"/>
<rect x="446.20" y="443.30" width="7.00" height="16.90"/>
<rect x="456.70" y="443.30" width="7.00" height="16.90"/>
<rect x="472.50" y="440.10" width="7.00" height="20.10"/>
<rect x="476.80" y="440.10" width="7.00" height="20.10"/>
<rect x="492.20" y="440.10" width="7.00" height="20.10"/>
<rect x="502.60" y="440.10" width="7.00" height="20.10"/>
<rect x="517.30" y="438.10" width="7.00" height="22.10"/>
<rect x="525.40" y="438.10" width="7.00" height="22.10"/>
<rect x="536.00" y="438.10" width="7.00" height="22.10"/>
<rect x="547.20" y="438.10" width="7.00" height="22.10"/>
<rect x="561.70" y="234.80" width="8.20" height="225.40"/>
<rect x="570.40" y="433.30" width="7.00" height="26.90"/>
<rect x="581.90" y="433.30" width="7.00" height="26.90"/>
<rect x="592.90" y="433.30" width="7.00" height="26.90"/>
<rect x="607.40" y="431.90" width="7.00" height="28.30"/>
<rect x="615.20" y="431.90" width="7.00" height="28.30"/>
<rect x="626.50" y="431.90" width="7.00" height="28.30"/>
<rect x="637.70" y="431.90" width="7.00" height="28.30"/>
<rect x="653.30" y="429.80" width="7.00" height="30.40"/>
<rect x="661.10" y="429.80" width="7.00" height="30.40"/>
<rect x="671.60" y="429.80" width="7.00" height="30.40"/>
<rect x="683.60" y="429.80" width="7.00" height="30.40"/>
<rect x="698.00" y="428.50" width="7.00" height="31.70"/>
<rect x="705.60" y="421.50" width="7.00" height="38.70"/>
<rect x="717.10" y="421.50" width="7.00" height="38.70"/>
<rect x="728.30" y="421.50" width="7.00" height="38.70"/>
<rect x="743.10" y="418.30" width="7.00" height="41.90"/>
<rect x="750.80" y="418.30" width="7.00" height="41.90"/>
<rect x="762.00" y="418.30" width="7.00" height="41.90"/>
<rect x="773.80" y="410.60" width="7.00" height="49.60"/>
<rect x="787.00" y="410.60" width="7.00" height="49.60"/>
<rect x="796.30" y="78.75" width="7.00" height="381.45"/>
<rect x="806.50" y="410.60" width="7.00" height="49.60"/>
<rect x="817.50" y="410.60" width="7.00" height="49.60"/>
<rect x="832.90" y="410.60" width="7.00" height="49.60"/>
<rect x="840.40" y="410.60" width="7.00" height="49.60"/>
<rect x="851.50" y="410.60" width="7.00" height="49.60"/>
<rect x="862.70" y="410.60" width="7.00" height="49.60"/>
<rect x="878.10" y="410.60" width="7.00" height="49.60"/>
<rect x="835.20" y="228.20" width="6.70" height="232.00"/>
<rect x="535.90" y="438.10" width="7.00" height="22.10"/>
</g>
<g stroke="#505050" stroke-width="0.9" fill="none">
<rect x="128.50" y="62.30" width="793.10" height="397.90"/>
<line x1="167.45" y1="460.20" x2="167.45" y2="462.90"/>
<line x1="257.45" y1="460.20" x2="257.45" y2="462.90"/>
<line x1="347.45" y1="460.20" x2="347.45" y2="462.90"/>
<line x1="437.45" y1="460.20" x2="437.45" y2="462.90"/>
<line x1="527.45" y1="460.20" x2="527.45" y2="462.90"/>
<line x1="617.45" y1="460.20" x2="617.45" y2="462.90"/>
<line x1="707.45" y1="460.20" x2="707.45" y2="462.90"/>
<line x1="797.45" y1="460.20" x2="797.45" y2="462.90"/>
<line x1="887.45" y1="460.20" x2="887.45" y2="462.90"/>
<line x1="125.20" y1="460.20" x2="128.50" y2="460.20"/>
<line x1="125.20" y1="378.73" x2="128.50" y2="378.73"/>
<line x1="125.20" y1="297.25" x2="128.50" y2="297.25"/>
<line x1="125.20" y1="215.77" x2="128.50" y2="215.77"/>
<line x1="125.20" y1="134.30" x2="128.50" y2="134.30"/>
<line x1="921.60" y1="460.20" x2="924.30" y2="460.20"/>
<line x1="921.60" y1="393.88" x2="924.30" y2="393.88"/>
<line x1="921.60" y1="327.57" x2="924.30" y2="327.57"/>
<line x1="921.60" y1="261.25" x2="924.30" y2="261.25"/>
<line x1="921.60" y1="194.93" x2="924.30" y2="194.93"/>
<line x1="921.60" y1="128.62" x2="924.30" y2="128.62"/>
<line x1="921.60" y1="62.30" x2="924.30" y2="62.30"/>
</g>
<g font-size="15.1" stroke="#1a1a1a" stroke-width="0.3">
<text x="167.45" y="476.80" text-anchor="middle" textLength="36.28" lengthAdjust="spacingAndGlyphs">2006</text>
<text x="257.45" y="476.80" text-anchor="middle" textLength="36.28" lengthAdjust="spacingAndGlyphs">2008</text>
<text x="347.45" y="476.80" text-anchor="middle" textLength="36.28" lengthAdjust="spacingAndGlyphs">2010</text>
<text x="437.45" y="476.80" text-anchor="middle" textLength="36.28" lengthAdjust="spacingAndGlyphs">2012</text>
<text x="527.45" y="476.80" text-anchor="middle" textLength="36.28" lengthAdjust="spacingAndGlyphs">2014</text>
<text x="617.45" y="476.80" text-anchor="middle" textLength="36.28" lengthAdjust="spacingAndGlyphs">2016</text>
<text x="707.45" y="476.80" text-anchor="middle" textLength="36.28" lengthAdjust="spacingAndGlyphs">2018</text>
<text x="797.45" y="476.80" text-anchor="middle" textLength="36.28" lengthAdjust="spacingAndGlyphs">2020</text>
<text x="887.45" y="476.80" text-anchor="middle" textLength="36.28" lengthAdjust="spacingAndGlyphs">2022</text>
<text x="121.80" y="465.70" text-anchor="end" textLength="8.23" lengthAdjust="spacingAndGlyphs">0</text>
<text x="121.80" y="384.23" text-anchor="end" textLength="17.58" lengthAdjust="spacingAndGlyphs">20</text>
<text x="121.80" y="302.75" text-anchor="end" textLength="17.58" lengthAdjust="spacingAndGlyphs">40</text>
<text x="121.80" y="221.27" text-anchor="end" textLength="17.58" lengthAdjust="spacingAndGlyphs">60</text>
<text x="121.80" y="139.80" text-anchor="end" textLength="17.58" lengthAdjust="spacingAndGlyphs">80</text>
<text x="927.90" y="465.70" text-anchor="start" textLength="8.23" lengthAdjust="spacingAndGlyphs">0</text>
<text x="927.90" y="399.38" text-anchor="start" textLength="8.23" lengthAdjust="spacingAndGlyphs">1</text>
<text x="927.90" y="333.07" text-anchor="start" textLength="8.23" lengthAdjust="spacingAndGlyphs">2</text>
<text x="927.90" y="266.75" text-anchor="start" textLength="8.23" lengthAdjust="spacingAndGlyphs">3</text>
<text x="927.90" y="200.43" text-anchor="start" textLength="8.23" lengthAdjust="spacingAndGlyphs">4</text>
<text x="927.90" y="134.12" text-anchor="start" textLength="8.23" lengthAdjust="spacingAndGlyphs">5</text>
<text x="927.90" y="67.80" text-anchor="start" textLength="8.23" lengthAdjust="spacingAndGlyphs">6</text>
</g>
<g id="title" transform="translate(524.40,49.50) rotate(0) translate(-99.90,8.44)"><text x="0" y="0" font-size="21" text-anchor="start" textLength="199.8" lengthAdjust="spacingAndGlyphs" style="font-family:'Liberation Sans','Noto Sans CJK JP',sans-serif;fill:#dd0f18">MSMの株価とEPS推移</text></g>
<g id="xlabel" transform="translate(524.60,497.20) rotate(0) translate(-44.40,8.44)"><text x="0" y="0" font-size="21" text-anchor="start" textLength="88.8" lengthAdjust="spacingAndGlyphs" style="font-family:'Liberation Sans','Noto Sans CJK JP',sans-serif;fill:#111">時間[年]</text></g>
<g id="ylabel" transform="translate(77.90,262.10) rotate(-90) translate(-55.50,8.44)"><text x="0" y="0" font-size="21" text-anchor="start" textLength="111" lengthAdjust="spacingAndGlyphs" style="font-family:'Liberation Sans','Noto Sans CJK JP',sans-serif;fill:#111">株価[ドル]</text></g>
<g id="y2label" transform="translate(959.30,259.20) rotate(90) translate(-84.19,8.53)"><text x="0" y="0" font-size="21" text-anchor="start" textLength="168.38" lengthAdjust="spacingAndGlyphs" style="font-family:'Liberation Sans','Noto Sans CJK JP',sans-serif;fill:#e5135f">四半期EPS[ドル]</text></g>
<g id="y3label" transform="translate(989.10,258.90) rotate(90) translate(-100.80,8.51)"><text x="0" y="0" font-size="21" text-anchor="start" textLength="201.6" lengthAdjust="spacingAndGlyphs" style="font-family:'Liberation Sans','Noto Sans CJK JP',sans-serif;fill:#cfa019">四半期配当金[ドル]</text></g>
</svg></body></html>
